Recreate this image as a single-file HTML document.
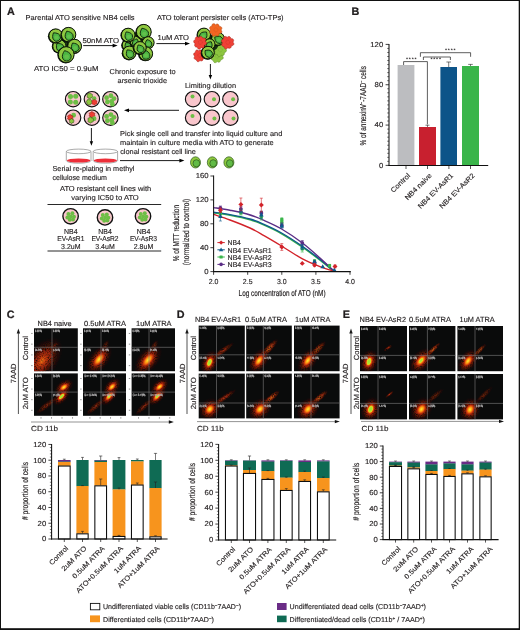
<!DOCTYPE html>
<html lang="en"><head><meta charset="utf-8"><title>Figure</title>
<style>html,body{margin:0;padding:0;background:#fff}body{width:520px;height:630px;overflow:hidden}svg{display:block}text{font-family:'Liberation Sans', sans-serif;fill:#231f20;text-rendering:geometricPrecision}</style>
</head><body>
<svg width="520" height="630" viewBox="0 0 520 630">
<defs>
<filter id="soft" x="-30%" y="-30%" width="160%" height="160%"><feGaussianBlur stdDeviation="0.35"/></filter>
<filter id="spk" x="-5%" y="-5%" width="110%" height="110%"><feTurbulence type="fractalNoise" baseFrequency="0.75" numOctaves="2" seed="5" result="n"/><feColorMatrix in="n" type="matrix" values="0 0 0 0 0  0 0 0 0 0  0 0 0 0 0  2.2 0 0 0 -0.3" result="m"/><feComposite in="SourceGraphic" in2="m" operator="in"/></filter>
<radialGradient id="hotG" cx="0.5" cy="0.5" r="0.5"><stop offset="0" stop-color="#b8ee2a" stop-opacity="1"/><stop offset="0.22" stop-color="#f2e21c" stop-opacity="1"/><stop offset="0.42" stop-color="#ff9a12" stop-opacity="1"/><stop offset="0.62" stop-color="#e2470c" stop-opacity="0.95"/><stop offset="0.82" stop-color="#9c1c08" stop-opacity="0.6"/><stop offset="1" stop-color="#5a0c04" stop-opacity="0"/></radialGradient>
<radialGradient id="hotY" cx="0.5" cy="0.5" r="0.5"><stop offset="0" stop-color="#ffe640" stop-opacity="1"/><stop offset="0.2" stop-color="#ffc21e" stop-opacity="1"/><stop offset="0.42" stop-color="#f98512" stop-opacity="1"/><stop offset="0.64" stop-color="#d43c0c" stop-opacity="0.9"/><stop offset="0.84" stop-color="#8e1a08" stop-opacity="0.55"/><stop offset="1" stop-color="#500a04" stop-opacity="0"/></radialGradient>
<radialGradient id="warm" cx="0.5" cy="0.5" r="0.5"><stop offset="0" stop-color="#f07a14" stop-opacity="1"/><stop offset="0.3" stop-color="#d8480e" stop-opacity="0.95"/><stop offset="0.6" stop-color="#a8240a" stop-opacity="0.75"/><stop offset="0.85" stop-color="#6c1206" stop-opacity="0.4"/><stop offset="1" stop-color="#400804" stop-opacity="0"/></radialGradient>
<radialGradient id="dim" cx="0.5" cy="0.5" r="0.5"><stop offset="0" stop-color="#c83a10" stop-opacity="0.95"/><stop offset="0.4" stop-color="#9a200a" stop-opacity="0.7"/><stop offset="0.8" stop-color="#5c1006" stop-opacity="0.35"/><stop offset="1" stop-color="#300602" stop-opacity="0"/></radialGradient>
<radialGradient id="grn" cx="0.5" cy="0.5" r="0.5"><stop offset="0" stop-color="#8fe03a" stop-opacity="1"/><stop offset="0.5" stop-color="#a8e632" stop-opacity="1"/><stop offset="0.78" stop-color="#dcea22" stop-opacity="0.8"/><stop offset="1" stop-color="#ffd21e" stop-opacity="0"/></radialGradient>
</defs>
<rect x="0.00" y="0.00" width="520.00" height="630.00" fill="#fff"/>
<g id="panelA">
<text font-size="10.8" font-weight="bold" fill="#000" x="6.90" y="15.35" stroke="#000" stroke-width="0.2">A</text>
<text font-size="7.2" textLength="109.00" lengthAdjust="spacingAndGlyphs" x="25.60" y="19.95" stroke="#231f20" stroke-width="0.14">Parental ATO sensitive NB4 cells</text>
<text font-size="7.2" textLength="126.60" lengthAdjust="spacingAndGlyphs" x="157.00" y="19.95" stroke="#231f20" stroke-width="0.14">ATO tolerant persister cells (ATO-TPs)</text>
<text font-size="7.2" textLength="36.60" lengthAdjust="spacingAndGlyphs" x="82.40" y="42.75" stroke="#231f20" stroke-width="0.14">50nM ATO</text>
<text font-size="7.2" textLength="31.40" lengthAdjust="spacingAndGlyphs" x="157.60" y="40.35" stroke="#231f20" stroke-width="0.14">1uM ATO</text>
<text font-size="7.2" textLength="64.40" lengthAdjust="spacingAndGlyphs" x="34.00" y="70.75" stroke="#231f20" stroke-width="0.14">ATO IC50 = 0.9uM</text>
<text font-size="7.2" textLength="66.00" lengthAdjust="spacingAndGlyphs" x="109.60" y="74.35" stroke="#231f20" stroke-width="0.14">Chronic exposure to</text>
<text font-size="7.2" textLength="49.40" lengthAdjust="spacingAndGlyphs" x="117.60" y="83.35" stroke="#231f20" stroke-width="0.14">arsenic trioxide</text>
<text font-size="7.2" textLength="51.00" lengthAdjust="spacingAndGlyphs" x="185.00" y="87.95" stroke="#231f20" stroke-width="0.14">Limiting dilution</text>
<text font-size="7.2" textLength="162.20" lengthAdjust="spacingAndGlyphs" x="120.10" y="135.95" stroke="#231f20" stroke-width="0.14">Pick single cell and transfer into liquid culture and</text>
<text font-size="7.2" textLength="153.60" lengthAdjust="spacingAndGlyphs" x="120.10" y="145.35" stroke="#231f20" stroke-width="0.14">maintain in culture media with ATO to generate</text>
<text font-size="7.2" textLength="75.80" lengthAdjust="spacingAndGlyphs" x="120.20" y="154.25" stroke="#231f20" stroke-width="0.14">clonal resistant cell line</text>
<text font-size="7.2" textLength="82.00" lengthAdjust="spacingAndGlyphs" x="52.50" y="170.95" stroke="#231f20" stroke-width="0.14">Serial re-plating in methyl</text>
<text font-size="7.2" textLength="54.50" lengthAdjust="spacingAndGlyphs" x="52.50" y="179.95" stroke="#231f20" stroke-width="0.14">cellulose medium</text>
<text font-size="7.2" textLength="91.20" lengthAdjust="spacingAndGlyphs" x="60.00" y="190.55" stroke="#231f20" stroke-width="0.14">ATO resistant cell lines with</text>
<text font-size="7.2" textLength="67.60" lengthAdjust="spacingAndGlyphs" x="71.20" y="200.15" stroke="#231f20" stroke-width="0.14">varying IC50 to ATO</text>
<circle cx="64.5" cy="44.5" r="8" fill="#1d3d14"/>
<circle cx="58.95" cy="46.55" r="7.15" fill="#070b06"/>
<circle cx="59.40" cy="46.20" r="6.60" fill="#8fc840" stroke="#0a1408" stroke-width="1.0"/>
<path d="M0,-4.99 C2.03,-3.51 3.70,-1.85 3.70,0.30 A3.70,3.70 0 1 1 -3.70,0.30 C-3.70,-1.85 -2.03,-3.51 0,-4.99Z" transform="translate(60.08,47.40) rotate(-40)" fill="#4bb543" stroke="#0f260c" stroke-width="0.85" stroke-linejoin="round"/>
<ellipse cx="60.08" cy="47.77" rx="2.03" ry="1.85" fill="#62c04b"/>
<circle cx="55.35" cy="36.15" r="7.45" fill="#070b06"/>
<circle cx="55.80" cy="35.80" r="6.90" fill="#8fc840" stroke="#0a1408" stroke-width="1.0"/>
<path d="M0,-5.22 C2.13,-3.67 3.86,-1.93 3.86,0.31 A3.86,3.86 0 1 1 -3.86,0.31 C-3.86,-1.93 -2.13,-3.67 0,-5.22Z" transform="translate(56.43,37.12) rotate(-35)" fill="#4bb543" stroke="#0f260c" stroke-width="0.85" stroke-linejoin="round"/>
<ellipse cx="56.43" cy="37.50" rx="2.13" ry="1.93" fill="#62c04b"/>
<circle cx="68.15" cy="34.95" r="7.75" fill="#070b06"/>
<circle cx="68.60" cy="34.60" r="7.20" fill="#8fc840" stroke="#0a1408" stroke-width="1.0"/>
<path d="M0,-5.44 C2.22,-3.83 4.03,-2.02 4.03,0.32 A4.03,4.03 0 1 1 -4.03,0.32 C-4.03,-2.02 -2.22,-3.83 0,-5.44Z" transform="translate(69.09,36.08) rotate(-25)" fill="#4bb543" stroke="#0f260c" stroke-width="0.85" stroke-linejoin="round"/>
<ellipse cx="69.09" cy="36.48" rx="2.22" ry="2.02" fill="#62c04b"/>
<circle cx="74.15" cy="46.55" r="7.45" fill="#070b06"/>
<circle cx="74.60" cy="46.20" r="6.90" fill="#8fc840" stroke="#0a1408" stroke-width="1.0"/>
<path d="M0,-5.22 C2.13,-3.67 3.86,-1.93 3.86,0.31 A3.86,3.86 0 1 1 -3.86,0.31 C-3.86,-1.93 -2.13,-3.67 0,-5.22Z" transform="translate(75.15,47.57) rotate(-30)" fill="#4bb543" stroke="#0f260c" stroke-width="0.85" stroke-linejoin="round"/>
<ellipse cx="75.15" cy="47.96" rx="2.13" ry="1.93" fill="#62c04b"/>
<circle cx="65.75" cy="54.95" r="8.45" fill="#070b06"/>
<circle cx="66.20" cy="54.60" r="7.90" fill="#8fc840" stroke="#0a1408" stroke-width="1.0"/>
<path d="M0,-5.97 C2.43,-4.20 4.42,-2.21 4.42,0.35 A4.42,4.42 0 1 1 -4.42,0.35 C-4.42,-2.21 -2.43,-4.20 0,-5.97Z" transform="translate(66.63,56.26) rotate(-20)" fill="#4bb543" stroke="#0f260c" stroke-width="0.85" stroke-linejoin="round"/>
<ellipse cx="66.63" cy="56.70" rx="2.43" ry="2.21" fill="#62c04b"/>
<line x1="83.20" y1="45.60" x2="113.10" y2="45.60" stroke="#000" stroke-width="0.9" stroke-linecap="butt"/>
<polygon points="117.60,45.60 112.60,47.50 112.60,43.70" fill="#000"/>
<circle cx="138" cy="43" r="11" fill="#16300f"/>
<circle cx="127.15" cy="45.35" r="5.95" fill="#070b06"/>
<circle cx="127.60" cy="45.00" r="5.40" fill="#8fc840" stroke="#0a1408" stroke-width="1.0"/>
<path d="M0,-4.08 C1.66,-2.87 3.02,-1.51 3.02,0.24 A3.02,3.02 0 1 1 -3.02,0.24 C-3.02,-1.51 -1.66,-2.87 0,-4.08Z" transform="translate(128.03,46.07) rotate(-30)" fill="#4bb543" stroke="#0f260c" stroke-width="0.85" stroke-linejoin="round"/>
<ellipse cx="128.03" cy="46.37" rx="1.66" ry="1.51" fill="#62c04b"/>
<circle cx="135.35" cy="41.95" r="5.95" fill="#070b06"/>
<circle cx="135.80" cy="41.60" r="5.40" fill="#8fc840" stroke="#0a1408" stroke-width="1.0"/>
<path d="M0,-4.08 C1.66,-2.87 3.02,-1.51 3.02,0.24 A3.02,3.02 0 1 1 -3.02,0.24 C-3.02,-1.51 -1.66,-2.87 0,-4.08Z" transform="translate(135.50,42.74) rotate(20)" fill="#4bb543" stroke="#0f260c" stroke-width="0.85" stroke-linejoin="round"/>
<ellipse cx="135.50" cy="43.04" rx="1.66" ry="1.51" fill="#62c04b"/>
<circle cx="127.75" cy="35.35" r="7.35" fill="#070b06"/>
<circle cx="128.20" cy="35.00" r="6.80" fill="#8fc840" stroke="#0a1408" stroke-width="1.0"/>
<path d="M0,-5.14 C2.09,-3.62 3.81,-1.90 3.81,0.30 A3.81,3.81 0 1 1 -3.81,0.30 C-3.81,-1.90 -2.09,-3.62 0,-5.14Z" transform="translate(128.74,36.35) rotate(-30)" fill="#4bb543" stroke="#0f260c" stroke-width="0.85" stroke-linejoin="round"/>
<ellipse cx="128.74" cy="36.73" rx="2.09" ry="1.90" fill="#62c04b"/>
<circle cx="143.35" cy="32.15" r="7.95" fill="#070b06"/>
<circle cx="143.80" cy="31.80" r="7.40" fill="#8fc840" stroke="#0a1408" stroke-width="1.0"/>
<path d="M0,-5.59 C2.28,-3.94 4.14,-2.07 4.14,0.33 A4.14,4.14 0 1 1 -4.14,0.33 C-4.14,-2.07 -2.28,-3.94 0,-5.59Z" transform="translate(144.30,33.32) rotate(-25)" fill="#4bb543" stroke="#0f260c" stroke-width="0.85" stroke-linejoin="round"/>
<ellipse cx="144.30" cy="33.73" rx="2.28" ry="2.07" fill="#62c04b"/>
<circle cx="147.75" cy="42.95" r="6.45" fill="#070b06"/>
<circle cx="148.20" cy="42.60" r="5.90" fill="#8fc840" stroke="#0a1408" stroke-width="1.0"/>
<path d="M0,-4.46 C1.82,-3.14 3.30,-1.65 3.30,0.26 A3.30,3.30 0 1 1 -3.30,0.26 C-3.30,-1.65 -1.82,-3.14 0,-4.46Z" transform="translate(148.52,43.84) rotate(-20)" fill="#4bb543" stroke="#0f260c" stroke-width="0.85" stroke-linejoin="round"/>
<ellipse cx="148.52" cy="44.17" rx="1.82" ry="1.65" fill="#62c04b"/>
<circle cx="128.95" cy="53.15" r="7.25" fill="#070b06"/>
<circle cx="129.40" cy="52.80" r="6.70" fill="#8fc840" stroke="#0a1408" stroke-width="1.0"/>
<path d="M0,-5.07 C2.06,-3.56 3.75,-1.88 3.75,0.30 A3.75,3.75 0 1 1 -3.75,0.30 C-3.75,-1.88 -2.06,-3.56 0,-5.07Z" transform="translate(130.01,54.08) rotate(-35)" fill="#4bb543" stroke="#0f260c" stroke-width="0.85" stroke-linejoin="round"/>
<ellipse cx="130.01" cy="54.46" rx="2.06" ry="1.88" fill="#62c04b"/>
<circle cx="145.35" cy="53.95" r="7.35" fill="#070b06"/>
<circle cx="145.80" cy="53.60" r="6.80" fill="#8fc840" stroke="#0a1408" stroke-width="1.0"/>
<path d="M0,-5.14 C2.09,-3.62 3.81,-1.90 3.81,0.30 A3.81,3.81 0 1 1 -3.81,0.30 C-3.81,-1.90 -2.09,-3.62 0,-5.14Z" transform="translate(145.99,55.08) rotate(-10)" fill="#4bb543" stroke="#0f260c" stroke-width="0.85" stroke-linejoin="round"/>
<ellipse cx="145.99" cy="55.46" rx="2.09" ry="1.90" fill="#62c04b"/>
<circle cx="139.55" cy="48.15" r="6.75" fill="#070b06"/>
<circle cx="140.00" cy="47.80" r="6.20" fill="#8fc840" stroke="#0a1408" stroke-width="1.0"/>
<path d="M0,-4.69 C1.91,-3.30 3.47,-1.74 3.47,0.28 A3.47,3.47 0 1 1 -3.47,0.28 C-3.47,-1.74 -1.91,-3.30 0,-4.69Z" transform="translate(140.50,49.03) rotate(-30)" fill="#4bb543" stroke="#0f260c" stroke-width="0.85" stroke-linejoin="round"/>
<ellipse cx="140.50" cy="49.38" rx="1.91" ry="1.74" fill="#62c04b"/>
<line x1="156.40" y1="43.60" x2="185.50" y2="43.60" stroke="#000" stroke-width="0.9" stroke-linecap="butt"/>
<polygon points="190.00,43.60 185.00,45.50 185.00,41.70" fill="#000"/>
<polygon points="205.04,55.60 205.25,55.98 205.37,56.39 205.38,56.79 205.29,57.18 205.10,57.54 204.83,57.85 204.48,58.11 204.06,58.29 203.59,58.40 203.05,58.40 203.10,58.85 203.10,59.30 203.01,59.71 202.84,60.09 202.61,60.40 202.32,60.66 201.98,60.83 201.60,60.92 201.21,60.93 200.81,60.84 200.41,60.67 200.03,60.35 199.74,60.78 199.40,61.15 199.02,61.42 198.61,61.60 198.19,61.67 197.78,61.64 197.40,61.50 197.06,61.26 196.77,60.93 196.56,60.53 196.42,60.06 196.41,59.50 195.95,59.53 195.51,59.49 195.11,59.37 194.76,59.16 194.47,58.89 194.27,58.56 194.14,58.19 194.11,57.79 194.16,57.38 194.30,56.97 194.53,56.57 194.89,56.19 194.50,55.92 194.15,55.60 193.89,55.24 193.71,54.85 193.63,54.45 193.63,54.05 193.73,53.68 193.93,53.33 194.20,53.04 194.55,52.80 194.97,52.64 195.48,52.59 195.40,52.09 195.40,51.60 195.50,51.15 195.69,50.76 195.95,50.44 196.28,50.20 196.67,50.06 197.09,50.02 197.52,50.08 197.96,50.23 198.38,50.49 198.78,50.89 199.07,50.55 199.40,50.26 199.76,50.06 200.14,49.95 200.53,49.92 200.91,49.98 201.26,50.13 201.57,50.35 201.84,50.65 202.05,51.01 202.19,51.43 202.22,51.93 202.71,51.83 203.20,51.80 203.66,51.86 204.08,52.01 204.44,52.23 204.72,52.53 204.91,52.88 205.01,53.27 205.01,53.69 204.91,54.12 204.71,54.54 204.35,54.95 204.73,55.25" fill="#ef4136" stroke="#a5241c" stroke-width="0.55" stroke-linejoin="round"/>
<circle cx="199.70" cy="55.40" r="1.90" fill="none" stroke="#a5241c" stroke-width="0.4" stroke-dasharray="0.7 0.5" opacity="0.8"/>
<polygon points="222.57,56.30 222.89,56.69 223.11,57.12 223.22,57.56 223.22,57.99 223.11,58.41 222.89,58.78 222.59,59.11 222.20,59.36 221.75,59.54 221.24,59.63 220.68,59.61 220.60,60.00 220.57,60.48 220.45,60.92 220.25,61.32 219.99,61.64 219.66,61.90 219.29,62.07 218.88,62.15 218.46,62.13 218.04,62.02 217.63,61.82 217.24,61.48 216.90,61.78 216.52,62.17 216.09,62.45 215.64,62.62 215.19,62.68 214.75,62.63 214.34,62.47 213.99,62.21 213.70,61.85 213.48,61.41 213.36,60.91 213.36,60.33 212.97,60.23 212.48,60.18 212.05,60.02 211.69,59.78 211.39,59.48 211.19,59.12 211.07,58.71 211.05,58.28 211.13,57.85 211.31,57.41 211.57,57.00 211.96,56.62 211.70,56.30 211.35,55.94 211.08,55.53 210.91,55.11 210.84,54.68 210.87,54.25 210.99,53.85 211.21,53.49 211.51,53.19 211.90,52.96 212.34,52.80 212.87,52.76 212.92,52.32 212.94,51.78 213.06,51.30 213.28,50.89 213.58,50.55 213.94,50.31 214.36,50.16 214.81,50.13 215.27,50.21 215.73,50.40 216.16,50.69 216.56,51.12 216.90,50.92 217.27,50.62 217.67,50.42 218.09,50.32 218.51,50.31 218.91,50.39 219.28,50.57 219.60,50.83 219.87,51.16 220.07,51.56 220.19,52.01 220.21,52.52 220.65,52.55 221.18,52.54 221.67,52.64 222.12,52.82 222.49,53.07 222.78,53.40 222.98,53.78 223.07,54.21 223.05,54.65 222.93,55.10 222.70,55.54 222.32,55.94" fill="#8dc63f" stroke="#5f8f2c" stroke-width="0.55" stroke-linejoin="round"/>
<circle cx="217.20" cy="56.10" r="2.04" fill="none" stroke="#5f8f2c" stroke-width="0.4" stroke-dasharray="0.7 0.5" opacity="0.8"/>
<polygon points="226.41,50.00 226.48,50.43 226.45,50.85 226.31,51.26 226.07,51.63 225.74,51.95 225.33,52.21 224.86,52.40 224.30,52.48 224.35,52.91 224.42,53.39 224.39,53.85 224.28,54.28 224.08,54.65 223.81,54.97 223.48,55.22 223.10,55.38 222.69,55.45 222.25,55.42 221.80,55.30 221.35,55.04 221.08,55.44 220.78,55.89 220.41,56.24 220.00,56.48 219.57,56.62 219.13,56.64 218.70,56.55 218.30,56.35 217.95,56.04 217.66,55.64 217.45,55.16 217.35,54.58 216.92,54.61 216.44,54.64 216.00,54.57 215.59,54.41 215.25,54.16 214.98,53.85 214.79,53.48 214.69,53.07 214.68,52.63 214.76,52.17 214.93,51.72 215.24,51.28 214.87,51.02 214.44,50.73 214.10,50.39 213.85,50.00 213.69,49.59 213.63,49.16 213.68,48.74 213.83,48.35 214.08,47.99 214.41,47.69 214.83,47.45 215.35,47.32 215.28,46.85 215.21,46.32 215.25,45.83 215.39,45.39 215.63,45.01 215.95,44.72 216.33,44.51 216.77,44.40 217.24,44.40 217.72,44.50 218.20,44.71 218.68,45.06 218.95,44.75 219.26,44.38 219.61,44.11 220.00,43.92 220.40,43.83 220.81,43.83 221.21,43.92 221.58,44.11 221.91,44.38 222.19,44.72 222.40,45.14 222.52,45.64 222.98,45.54 223.51,45.43 224.01,45.43 224.48,45.52 224.89,45.71 225.24,45.98 225.50,46.33 225.66,46.73 225.72,47.18 225.68,47.65 225.52,48.13 225.21,48.60 225.56,48.89 225.95,49.22 226.23,49.59" fill="#8dc63f" stroke="#5f8f2c" stroke-width="0.55" stroke-linejoin="round"/>
<circle cx="220.30" cy="49.80" r="2.04" fill="none" stroke="#5f8f2c" stroke-width="0.4" stroke-dasharray="0.7 0.5" opacity="0.8"/>
<circle cx="210.5" cy="43" r="8.5" fill="#16300f"/>
<circle cx="203.55" cy="34.95" r="7.05" fill="#070b06"/>
<circle cx="204.00" cy="34.60" r="6.50" fill="#8fc840" stroke="#0a1408" stroke-width="1.0"/>
<path d="M0,-4.91 C2.00,-3.46 3.64,-1.82 3.64,0.29 A3.64,3.64 0 1 1 -3.64,0.29 C-3.64,-1.82 -2.00,-3.46 0,-4.91Z" transform="translate(203.33,35.79) rotate(40)" fill="#4bb543" stroke="#0f260c" stroke-width="0.85" stroke-linejoin="round"/>
<ellipse cx="203.33" cy="36.15" rx="2.00" ry="1.82" fill="#62c04b"/>
<circle cx="217.55" cy="39.15" r="6.95" fill="#070b06"/>
<circle cx="218.00" cy="38.80" r="6.40" fill="#8fc840" stroke="#0a1408" stroke-width="1.0"/>
<path d="M0,-4.84 C1.97,-3.40 3.58,-1.79 3.58,0.29 A3.58,3.58 0 1 1 -3.58,0.29 C-3.58,-1.79 -1.97,-3.40 0,-4.84Z" transform="translate(218.89,39.70) rotate(-60)" fill="#4bb543" stroke="#0f260c" stroke-width="0.85" stroke-linejoin="round"/>
<ellipse cx="218.89" cy="40.05" rx="1.97" ry="1.79" fill="#62c04b"/>
<circle cx="209.15" cy="44.55" r="5.95" fill="#070b06"/>
<circle cx="209.60" cy="44.20" r="5.40" fill="#8fc840" stroke="#0a1408" stroke-width="1.0"/>
<path d="M0,-4.08 C1.66,-2.87 3.02,-1.51 3.02,0.24 A3.02,3.02 0 1 1 -3.02,0.24 C-3.02,-1.51 -1.66,-2.87 0,-4.08Z" transform="translate(209.17,45.27) rotate(30)" fill="#4bb543" stroke="#0f260c" stroke-width="0.85" stroke-linejoin="round"/>
<ellipse cx="209.17" cy="45.57" rx="1.66" ry="1.51" fill="#62c04b"/>
<circle cx="207.55" cy="52.95" r="6.85" fill="#070b06"/>
<circle cx="208.00" cy="52.60" r="6.30" fill="#8fc840" stroke="#0a1408" stroke-width="1.0"/>
<path d="M0,-4.76 C1.94,-3.35 3.53,-1.76 3.53,0.28 A3.53,3.53 0 1 1 -3.53,0.28 C-3.53,-1.76 -1.94,-3.35 0,-4.76Z" transform="translate(208.77,53.63) rotate(-50)" fill="#4bb543" stroke="#0f260c" stroke-width="0.85" stroke-linejoin="round"/>
<ellipse cx="208.77" cy="53.98" rx="1.94" ry="1.76" fill="#62c04b"/>
<polygon points="220.88,30.00 221.35,30.38 221.63,30.79 221.80,31.23 221.86,31.68 221.81,32.11 221.66,32.51 221.41,32.86 221.06,33.16 220.65,33.37 220.17,33.51 219.65,33.55 219.04,33.44 219.11,34.00 219.03,34.47 218.87,34.89 218.64,35.26 218.34,35.55 217.99,35.77 217.60,35.90 217.19,35.93 216.77,35.87 216.35,35.72 215.96,35.46 215.60,35.04 215.24,35.56 214.82,35.90 214.38,36.13 213.92,36.26 213.47,36.27 213.04,36.18 212.65,35.97 212.32,35.67 212.07,35.28 211.90,34.82 211.83,34.30 211.92,33.68 211.35,33.73 210.88,33.62 210.47,33.43 210.14,33.16 209.88,32.82 209.71,32.44 209.64,32.02 209.67,31.59 209.79,31.16 210.01,30.74 210.32,30.35 210.80,30.00 210.32,29.65 210.01,29.26 209.79,28.84 209.67,28.41 209.64,27.98 209.71,27.56 209.88,27.18 210.14,26.84 210.47,26.57 210.88,26.38 211.35,26.27 211.92,26.32 211.83,25.70 211.90,25.18 212.07,24.72 212.32,24.33 212.65,24.03 213.04,23.82 213.47,23.73 213.92,23.74 214.38,23.87 214.82,24.10 215.24,24.44 215.60,24.96 215.96,24.54 216.35,24.28 216.77,24.13 217.19,24.07 217.60,24.10 217.99,24.23 218.34,24.45 218.64,24.74 218.87,25.11 219.03,25.53 219.11,26.00 219.04,26.56 219.65,26.45 220.17,26.49 220.65,26.63 221.06,26.84 221.41,27.14 221.66,27.49 221.81,27.89 221.86,28.32 221.80,28.77 221.63,29.21 221.35,29.62" fill="#f26522" stroke="#b24a12" stroke-width="0.55" stroke-linejoin="round"/>
<circle cx="215.90" cy="29.80" r="2.04" fill="none" stroke="#b24a12" stroke-width="0.4" stroke-dasharray="0.7 0.5" opacity="0.8"/>
<polygon points="206.36,42.50 206.47,42.92 206.46,43.35 206.35,43.76 206.14,44.15 205.84,44.48 205.45,44.76 204.99,44.96 204.47,45.08 204.22,45.32 204.32,45.82 204.32,46.29 204.22,46.72 204.05,47.12 203.80,47.45 203.49,47.72 203.12,47.90 202.71,47.99 202.28,48.00 201.83,47.90 201.39,47.69 201.05,47.76 200.76,48.25 200.40,48.62 200.00,48.90 199.57,49.07 199.13,49.13 198.69,49.07 198.29,48.90 197.92,48.62 197.62,48.25 197.39,47.80 197.25,47.26 197.00,46.99 196.50,47.06 196.04,47.01 195.63,46.87 195.27,46.65 194.97,46.36 194.76,46.00 194.63,45.60 194.60,45.16 194.66,44.71 194.81,44.26 195.07,43.82 195.03,43.49 194.58,43.21 194.21,42.88 193.94,42.50 193.75,42.09 193.67,41.67 193.69,41.24 193.81,40.84 194.03,40.47 194.34,40.15 194.73,39.90 195.21,39.73 195.42,39.44 195.31,38.90 195.32,38.40 195.44,37.94 195.65,37.54 195.94,37.21 196.31,36.98 196.73,36.84 197.19,36.81 197.67,36.88 198.15,37.06 198.62,37.36 198.98,37.38 199.27,36.98 199.62,36.69 200.00,36.48 200.40,36.36 200.81,36.33 201.21,36.40 201.59,36.56 201.93,36.81 202.22,37.14 202.45,37.53 202.60,38.00 202.88,38.19 203.42,38.05 203.93,38.02 204.41,38.09 204.84,38.25 205.21,38.50 205.50,38.83 205.69,39.21 205.78,39.65 205.77,40.11 205.64,40.58 205.39,41.05 205.41,41.42 205.84,41.73 206.15,42.10" fill="#ef4136" stroke="#a5241c" stroke-width="0.55" stroke-linejoin="round"/>
<circle cx="200.30" cy="42.30" r="2.04" fill="none" stroke="#a5241c" stroke-width="0.4" stroke-dasharray="0.7 0.5" opacity="0.8"/>
<polygon points="233.31,42.50 233.60,42.90 233.78,43.33 233.86,43.76 233.83,44.19 233.69,44.60 233.45,44.96 233.12,45.27 232.71,45.51 232.24,45.67 231.72,45.73 231.23,45.77 231.29,46.29 231.24,46.76 231.10,47.19 230.89,47.57 230.60,47.88 230.27,48.11 229.88,48.25 229.47,48.31 229.05,48.27 228.62,48.14 228.21,47.90 227.84,47.66 227.50,48.15 227.11,48.50 226.68,48.75 226.23,48.89 225.78,48.92 225.35,48.84 224.95,48.65 224.61,48.35 224.34,47.97 224.15,47.51 224.06,46.98 224.01,46.48 223.48,46.52 223.01,46.44 222.60,46.26 222.26,46.00 221.99,45.68 221.80,45.31 221.72,44.90 221.72,44.46 221.83,44.02 222.02,43.59 222.32,43.18 222.60,42.82 222.15,42.50 221.82,42.13 221.58,41.72 221.44,41.29 221.39,40.86 221.44,40.44 221.59,40.05 221.84,39.71 222.17,39.42 222.57,39.21 223.04,39.08 223.49,38.99 223.41,38.41 223.46,37.89 223.61,37.43 223.85,37.04 224.17,36.73 224.55,36.51 224.97,36.40 225.43,36.40 225.90,36.51 226.35,36.73 226.78,37.06 227.17,37.39 227.50,36.99 227.88,36.73 228.28,36.55 228.70,36.47 229.11,36.49 229.50,36.60 229.86,36.80 230.18,37.08 230.43,37.43 230.61,37.84 230.72,38.31 230.79,38.75 231.36,38.64 231.89,38.65 232.36,38.77 232.79,38.97 233.14,39.25 233.40,39.59 233.57,39.99 233.63,40.42 233.58,40.87 233.43,41.32 233.16,41.76 232.87,42.15" fill="#ef4136" stroke="#a5241c" stroke-width="0.55" stroke-linejoin="round"/>
<circle cx="227.80" cy="42.30" r="2.04" fill="none" stroke="#a5241c" stroke-width="0.4" stroke-dasharray="0.7 0.5" opacity="0.8"/>
<line x1="210.40" y1="64.00" x2="210.40" y2="75.40" stroke="#000" stroke-width="0.9" stroke-linecap="butt"/>
<polygon points="210.40,79.40 208.70,74.90 212.10,74.90" fill="#000"/>
<circle cx="193.10" cy="99.20" r="7.70" fill="#f9c6cc" stroke="#111" stroke-width="1.15"/>
<circle cx="211.90" cy="99.20" r="7.70" fill="#f9c6cc" stroke="#111" stroke-width="1.15"/>
<circle cx="230.40" cy="99.20" r="7.70" fill="#f9c6cc" stroke="#111" stroke-width="1.15"/>
<circle cx="193.10" cy="117.70" r="7.70" fill="#f9c6cc" stroke="#111" stroke-width="1.15"/>
<circle cx="211.90" cy="117.70" r="7.70" fill="#f9c6cc" stroke="#111" stroke-width="1.15"/>
<circle cx="230.40" cy="117.70" r="7.70" fill="#f9c6cc" stroke="#111" stroke-width="1.15"/>
<circle cx="192.50" cy="96.60" r="2.00" fill="#6dbe45" filter="url(#soft)"/>
<circle cx="214.00" cy="99.20" r="2.00" fill="#6dbe45" filter="url(#soft)"/>
<circle cx="233.10" cy="99.20" r="2.00" fill="#6dbe45" filter="url(#soft)"/>
<circle cx="192.50" cy="116.00" r="2.00" fill="#6dbe45" filter="url(#soft)"/>
<circle cx="214.40" cy="118.40" r="2.00" fill="#6dbe45" filter="url(#soft)"/>
<circle cx="233.50" cy="118.40" r="2.00" fill="#6dbe45" filter="url(#soft)"/>
<line x1="179.00" y1="110.30" x2="128.50" y2="110.30" stroke="#000" stroke-width="0.9" stroke-linecap="butt"/>
<polygon points="124.00,110.30 129.00,108.40 129.00,112.20" fill="#000"/>
<circle cx="73.10" cy="99.20" r="7.70" fill="#f9c6cc" stroke="#111" stroke-width="1.15"/>
<circle cx="91.90" cy="99.20" r="7.70" fill="#f9c6cc" stroke="#111" stroke-width="1.15"/>
<circle cx="110.40" cy="99.20" r="7.70" fill="#f9c6cc" stroke="#111" stroke-width="1.15"/>
<circle cx="73.10" cy="117.70" r="7.70" fill="#f9c6cc" stroke="#111" stroke-width="1.15"/>
<circle cx="91.90" cy="117.70" r="7.70" fill="#f9c6cc" stroke="#111" stroke-width="1.15"/>
<circle cx="110.40" cy="117.70" r="7.70" fill="#f9c6cc" stroke="#111" stroke-width="1.15"/>
<g transform="translate(0,0.45)">
<circle cx="70.50" cy="96.10" r="2.50" fill="#6dbe45" filter="url(#soft)"/>
<circle cx="75.70" cy="95.70" r="2.50" fill="#6dbe45" filter="url(#soft)"/>
<circle cx="70.30" cy="101.50" r="2.50" fill="#6dbe45" filter="url(#soft)"/>
<circle cx="75.70" cy="101.90" r="2.50" fill="#6dbe45" filter="url(#soft)"/>
<circle cx="106.60" cy="97.20" r="2.40" fill="#6dbe45" filter="url(#soft)"/>
<circle cx="106.60" cy="116.00" r="2.40" fill="#6dbe45" filter="url(#soft)"/>
<circle cx="110.90" cy="95.30" r="2.40" fill="#6dbe45" filter="url(#soft)"/>
<circle cx="110.90" cy="114.10" r="2.40" fill="#6dbe45" filter="url(#soft)"/>
<circle cx="114.00" cy="98.10" r="2.40" fill="#6dbe45" filter="url(#soft)"/>
<circle cx="114.00" cy="116.90" r="2.40" fill="#6dbe45" filter="url(#soft)"/>
<circle cx="107.40" cy="101.50" r="2.40" fill="#6dbe45" filter="url(#soft)"/>
<circle cx="107.40" cy="120.30" r="2.40" fill="#6dbe45" filter="url(#soft)"/>
<circle cx="111.60" cy="100.90" r="2.40" fill="#6dbe45" filter="url(#soft)"/>
<circle cx="111.60" cy="119.70" r="2.40" fill="#6dbe45" filter="url(#soft)"/>
<circle cx="112.40" cy="103.70" r="2.40" fill="#6dbe45" filter="url(#soft)"/>
<circle cx="112.40" cy="122.50" r="2.40" fill="#6dbe45" filter="url(#soft)"/>
<polygon points="92.09,95.40 92.28,95.56 92.40,95.74 92.48,95.93 92.52,96.13 92.53,96.33 92.50,96.52 92.43,96.70 92.33,96.86 92.21,97.01 92.05,97.13 91.88,97.22 91.69,97.29 91.49,97.33 91.28,97.33 91.07,97.30 90.84,97.20 90.81,97.45 90.73,97.65 90.62,97.82 90.49,97.98 90.34,98.11 90.17,98.22 89.99,98.29 89.80,98.33 89.61,98.33 89.42,98.29 89.24,98.23 89.07,98.12 88.92,97.99 88.80,97.82 88.70,97.63 88.66,97.38 88.42,97.47 88.20,97.48 88.00,97.46 87.81,97.39 87.63,97.30 87.48,97.18 87.36,97.03 87.27,96.86 87.21,96.68 87.18,96.49 87.18,96.29 87.22,96.09 87.29,95.90 87.39,95.72 87.52,95.55 87.72,95.40 87.52,95.25 87.39,95.08 87.29,94.90 87.22,94.71 87.18,94.51 87.18,94.31 87.21,94.12 87.27,93.94 87.36,93.77 87.48,93.62 87.63,93.50 87.81,93.41 88.00,93.34 88.20,93.32 88.42,93.33 88.66,93.42 88.70,93.17 88.80,92.98 88.92,92.81 89.07,92.68 89.24,92.57 89.42,92.51 89.61,92.47 89.80,92.48 89.99,92.51 90.17,92.58 90.34,92.69 90.49,92.82 90.62,92.98 90.73,93.15 90.81,93.35 90.84,93.60 91.07,93.50 91.28,93.47 91.49,93.47 91.69,93.51 91.88,93.58 92.05,93.67 92.21,93.79 92.33,93.94 92.43,94.10 92.50,94.28 92.53,94.47 92.52,94.67 92.48,94.87 92.40,95.06 92.28,95.24" fill="#8dc63f" stroke="#1d3a12" stroke-width="0.5" stroke-linejoin="round"/>
<circle cx="94.20" cy="98.00" r="2.20" fill="#6dbe45" filter="url(#soft)"/>
<polygon points="92.20,101.60 92.23,101.80 92.22,102.00 92.18,102.19 92.10,102.38 91.99,102.55 91.85,102.70 91.68,102.82 91.49,102.92 91.29,103.00 91.07,103.03 90.85,103.04 90.89,103.29 90.87,103.51 90.83,103.72 90.75,103.92 90.64,104.09 90.51,104.25 90.35,104.38 90.18,104.48 89.99,104.54 89.79,104.57 89.59,104.56 89.39,104.51 89.20,104.43 89.02,104.31 88.86,104.15 88.73,103.96 88.53,104.11 88.32,104.19 88.11,104.23 87.90,104.23 87.70,104.20 87.51,104.12 87.35,104.02 87.20,103.88 87.08,103.72 86.99,103.54 86.93,103.34 86.90,103.14 86.91,102.92 86.95,102.71 87.02,102.50 87.12,102.30 86.90,102.22 86.71,102.10 86.55,101.95 86.42,101.78 86.32,101.60 86.25,101.41 86.22,101.21 86.22,101.01 86.26,100.81 86.33,100.63 86.44,100.46 86.58,100.31 86.75,100.19 86.94,100.09 87.16,100.04 87.39,100.01 87.36,99.76 87.40,99.54 87.47,99.34 87.57,99.16 87.70,99.00 87.86,98.88 88.03,98.79 88.22,98.73 88.42,98.70 88.63,98.71 88.83,98.76 89.02,98.84 89.20,98.95 89.36,99.09 89.51,99.27 89.63,99.45 89.82,99.30 90.02,99.20 90.22,99.13 90.43,99.10 90.64,99.11 90.84,99.14 91.03,99.21 91.20,99.31 91.35,99.45 91.48,99.60 91.57,99.78 91.63,99.98 91.65,100.19 91.63,100.40 91.57,100.62 91.48,100.83 91.71,100.93 91.88,101.07 92.02,101.23 92.13,101.41" fill="#8dc63f" stroke="#1d3a12" stroke-width="0.5" stroke-linejoin="round"/>
<polygon points="96.60,101.80 96.79,101.96 96.90,102.13 96.98,102.31 97.02,102.50 97.02,102.69 96.99,102.87 96.93,103.05 96.84,103.21 96.71,103.35 96.57,103.46 96.40,103.55 96.22,103.62 96.02,103.65 95.82,103.65 95.62,103.62 95.40,103.53 95.37,103.77 95.29,103.96 95.19,104.13 95.06,104.28 94.92,104.41 94.76,104.51 94.58,104.58 94.40,104.61 94.22,104.61 94.03,104.58 93.86,104.52 93.70,104.42 93.56,104.29 93.43,104.13 93.34,103.94 93.30,103.71 93.07,103.79 92.86,103.80 92.67,103.78 92.48,103.72 92.32,103.63 92.17,103.51 92.05,103.37 91.96,103.21 91.90,103.03 91.88,102.84 91.88,102.65 91.92,102.46 91.99,102.28 92.08,102.11 92.21,101.94 92.40,101.80 92.21,101.66 92.08,101.49 91.99,101.32 91.92,101.14 91.88,100.95 91.88,100.76 91.90,100.57 91.96,100.39 92.05,100.23 92.17,100.09 92.32,99.97 92.48,99.88 92.67,99.82 92.86,99.80 93.07,99.81 93.30,99.89 93.34,99.66 93.43,99.47 93.56,99.31 93.70,99.18 93.86,99.08 94.03,99.02 94.22,98.99 94.40,98.99 94.58,99.02 94.76,99.09 94.92,99.19 95.06,99.32 95.19,99.47 95.29,99.64 95.37,99.83 95.40,100.07 95.62,99.98 95.82,99.95 96.02,99.95 96.22,99.98 96.40,100.05 96.57,100.14 96.71,100.25 96.84,100.39 96.93,100.55 96.99,100.73 97.02,100.91 97.02,101.10 96.98,101.29 96.90,101.47 96.79,101.64" fill="#ee3e33" stroke="#a01a14" stroke-width="0.4" stroke-linejoin="round"/>
<circle cx="73.60" cy="114.80" r="2.40" fill="#6dbe45" filter="url(#soft)"/>
<polygon points="72.49,117.00 72.68,117.16 72.80,117.34 72.88,117.53 72.92,117.73 72.93,117.93 72.90,118.12 72.83,118.30 72.73,118.46 72.61,118.61 72.45,118.73 72.28,118.82 72.09,118.89 71.89,118.93 71.68,118.93 71.47,118.90 71.24,118.80 71.21,119.05 71.13,119.25 71.02,119.42 70.89,119.58 70.74,119.71 70.57,119.82 70.39,119.89 70.20,119.92 70.01,119.93 69.82,119.89 69.64,119.83 69.47,119.72 69.32,119.59 69.20,119.42 69.10,119.23 69.06,118.98 68.82,119.07 68.60,119.08 68.40,119.06 68.21,118.99 68.03,118.90 67.88,118.78 67.76,118.63 67.67,118.46 67.61,118.28 67.58,118.09 67.58,117.89 67.62,117.69 67.69,117.50 67.79,117.32 67.92,117.15 68.12,117.00 67.92,116.85 67.79,116.68 67.69,116.50 67.62,116.31 67.58,116.11 67.58,115.91 67.61,115.72 67.67,115.54 67.76,115.37 67.88,115.22 68.03,115.10 68.21,115.01 68.40,114.94 68.60,114.92 68.82,114.93 69.06,115.02 69.10,114.77 69.20,114.58 69.32,114.41 69.47,114.28 69.64,114.17 69.82,114.11 70.01,114.07 70.20,114.08 70.39,114.11 70.57,114.18 70.74,114.29 70.89,114.42 71.02,114.58 71.13,114.75 71.21,114.95 71.24,115.20 71.47,115.10 71.68,115.07 71.89,115.07 72.09,115.11 72.28,115.18 72.45,115.27 72.61,115.39 72.73,115.54 72.83,115.70 72.90,115.88 72.93,116.07 72.92,116.27 72.88,116.47 72.80,116.66 72.68,116.84" fill="#ee3e33" stroke="#7a1a10" stroke-width="0.5" stroke-linejoin="round"/>
<polygon points="73.54,120.60 73.70,120.74 73.80,120.89 73.87,121.05 73.90,121.22 73.91,121.38 73.88,121.55 73.83,121.70 73.74,121.84 73.64,121.96 73.51,122.06 73.36,122.14 73.20,122.20 73.03,122.23 72.85,122.23 72.67,122.21 72.48,122.12 72.45,122.33 72.39,122.50 72.30,122.65 72.19,122.78 72.06,122.90 71.91,122.98 71.76,123.04 71.60,123.07 71.44,123.08 71.28,123.05 71.12,122.99 70.98,122.90 70.86,122.79 70.75,122.65 70.67,122.49 70.63,122.28 70.43,122.35 70.25,122.36 70.07,122.34 69.91,122.29 69.77,122.21 69.64,122.10 69.54,121.98 69.46,121.84 69.40,121.68 69.38,121.52 69.38,121.35 69.42,121.19 69.48,121.02 69.56,120.87 69.67,120.73 69.84,120.60 69.67,120.47 69.56,120.33 69.48,120.18 69.42,120.01 69.38,119.85 69.38,119.68 69.40,119.52 69.46,119.36 69.54,119.22 69.64,119.10 69.77,118.99 69.91,118.91 70.07,118.86 70.25,118.84 70.43,118.85 70.63,118.92 70.67,118.71 70.75,118.55 70.86,118.41 70.98,118.30 71.12,118.21 71.28,118.15 71.44,118.12 71.60,118.12 71.76,118.16 71.91,118.22 72.06,118.30 72.19,118.42 72.30,118.55 72.39,118.70 72.45,118.87 72.48,119.08 72.67,118.99 72.85,118.97 73.03,118.97 73.20,119.00 73.36,119.06 73.51,119.14 73.64,119.24 73.74,119.36 73.83,119.50 73.88,119.65 73.91,119.82 73.90,119.98 73.87,120.15 73.80,120.31 73.70,120.46" fill="#8dc63f" stroke="#1d3a12" stroke-width="0.5" stroke-linejoin="round"/>
<polygon points="94.38,114.20 94.58,114.37 94.70,114.56 94.78,114.75 94.83,114.96 94.83,115.16 94.80,115.36 94.73,115.55 94.63,115.72 94.50,115.87 94.34,116.00 94.16,116.09 93.96,116.16 93.75,116.20 93.54,116.20 93.32,116.17 93.08,116.07 93.05,116.33 92.97,116.53 92.85,116.72 92.72,116.88 92.56,117.02 92.38,117.12 92.20,117.20 92.00,117.24 91.80,117.24 91.60,117.21 91.42,117.13 91.24,117.03 91.09,116.89 90.96,116.72 90.86,116.52 90.81,116.26 90.57,116.35 90.34,116.36 90.13,116.33 89.93,116.27 89.75,116.17 89.59,116.05 89.47,115.89 89.37,115.72 89.31,115.53 89.28,115.33 89.28,115.12 89.32,114.92 89.39,114.72 89.50,114.53 89.63,114.36 89.84,114.20 89.63,114.04 89.50,113.87 89.39,113.68 89.32,113.48 89.28,113.28 89.28,113.07 89.31,112.87 89.37,112.68 89.47,112.51 89.59,112.35 89.75,112.23 89.93,112.13 90.13,112.07 90.34,112.04 90.57,112.05 90.81,112.14 90.86,111.88 90.96,111.68 91.09,111.51 91.24,111.37 91.42,111.27 91.60,111.19 91.80,111.16 92.00,111.16 92.20,111.20 92.38,111.28 92.56,111.38 92.72,111.52 92.85,111.68 92.97,111.87 93.05,112.07 93.08,112.33 93.32,112.23 93.54,112.20 93.75,112.20 93.96,112.24 94.16,112.31 94.34,112.40 94.50,112.53 94.63,112.68 94.73,112.85 94.80,113.04 94.83,113.24 94.83,113.44 94.78,113.65 94.70,113.84 94.58,114.03" fill="#ee3e33" stroke="#7a1a10" stroke-width="0.5" stroke-linejoin="round"/>
<circle cx="94.20" cy="118.20" r="2.30" fill="#6dbe45" filter="url(#soft)"/>
<polygon points="92.98,119.60 93.18,119.77 93.30,119.96 93.38,120.15 93.43,120.36 93.43,120.56 93.40,120.76 93.33,120.95 93.23,121.12 93.10,121.27 92.94,121.40 92.76,121.49 92.56,121.56 92.35,121.60 92.14,121.60 91.92,121.57 91.68,121.47 91.65,121.73 91.57,121.93 91.45,122.12 91.32,122.28 91.16,122.42 90.98,122.52 90.80,122.60 90.60,122.64 90.40,122.64 90.20,122.61 90.02,122.53 89.84,122.43 89.69,122.29 89.56,122.12 89.46,121.92 89.41,121.66 89.17,121.75 88.94,121.76 88.73,121.73 88.53,121.67 88.35,121.57 88.19,121.45 88.07,121.29 87.97,121.12 87.91,120.93 87.88,120.73 87.88,120.52 87.92,120.32 87.99,120.12 88.10,119.93 88.23,119.76 88.44,119.60 88.23,119.44 88.10,119.27 87.99,119.08 87.92,118.88 87.88,118.68 87.88,118.47 87.91,118.27 87.97,118.08 88.07,117.91 88.19,117.75 88.35,117.63 88.53,117.53 88.73,117.47 88.94,117.44 89.17,117.45 89.41,117.54 89.46,117.28 89.56,117.08 89.69,116.91 89.84,116.77 90.02,116.67 90.20,116.59 90.40,116.56 90.60,116.56 90.80,116.60 90.98,116.68 91.16,116.78 91.32,116.92 91.45,117.08 91.57,117.27 91.65,117.47 91.68,117.73 91.92,117.63 92.14,117.60 92.35,117.60 92.56,117.64 92.76,117.71 92.94,117.80 93.10,117.93 93.23,118.08 93.33,118.25 93.40,118.44 93.43,118.64 93.43,118.84 93.38,119.05 93.30,119.24 93.18,119.43" fill="#8dc63f" stroke="#1d3a12" stroke-width="0.5" stroke-linejoin="round"/>
</g>
<line x1="91.40" y1="128.00" x2="91.40" y2="141.80" stroke="#000" stroke-width="0.9" stroke-linecap="butt"/>
<polygon points="91.40,145.80 89.70,141.30 93.10,141.30" fill="#000"/>
<path d="M66.30,151.4 V160.6 A12.35,2.6 0 0 0 91.00,160.6 V151.4" fill="#fff" stroke="#555" stroke-width="0.5"/>
<ellipse cx="78.65" cy="160.5" rx="11.85" ry="2.1" fill="#ed2e38"/>
<ellipse cx="78.65" cy="151.4" rx="12.35" ry="2.3" fill="#fff" stroke="#555" stroke-width="0.5"/>
<path d="M93.20,151.4 V160.6 A12.20,2.6 0 0 0 117.60,160.6 V151.4" fill="#fff" stroke="#555" stroke-width="0.5"/>
<ellipse cx="105.40" cy="160.5" rx="11.70" ry="2.1" fill="#ed2e38"/>
<ellipse cx="105.40" cy="151.4" rx="12.20" ry="2.3" fill="#fff" stroke="#555" stroke-width="0.5"/>
<line x1="120.00" y1="160.60" x2="179.90" y2="160.60" stroke="#000" stroke-width="0.9" stroke-linecap="butt"/>
<polygon points="184.40,160.60 179.40,162.50 179.40,158.70" fill="#000"/>
<ellipse cx="195.50" cy="162.4" rx="5.0" ry="5.6" fill="#8fc93f" stroke="#2a561c" stroke-width="0.7"/>
<ellipse cx="196.40" cy="163.3" rx="3.4" ry="3.6" fill="#62bb46" stroke="#2a561c" stroke-width="0.7"/>
<ellipse cx="212.30" cy="162.4" rx="5.0" ry="5.6" fill="#8fc93f" stroke="#2a561c" stroke-width="0.7"/>
<ellipse cx="213.20" cy="163.3" rx="3.4" ry="3.6" fill="#62bb46" stroke="#2a561c" stroke-width="0.7"/>
<ellipse cx="228.90" cy="162.4" rx="5.0" ry="5.6" fill="#8fc93f" stroke="#2a561c" stroke-width="0.7"/>
<ellipse cx="229.80" cy="163.3" rx="3.4" ry="3.6" fill="#62bb46" stroke="#2a561c" stroke-width="0.7"/>
<line x1="47.50" y1="204.50" x2="161.20" y2="204.50" stroke="#111" stroke-width="0.9" stroke-linecap="butt"/>
<line x1="47.50" y1="251.00" x2="161.20" y2="251.00" stroke="#111" stroke-width="0.9" stroke-linecap="butt"/>
<circle cx="70.60" cy="216.30" r="7.70" fill="#f9c6cc" stroke="#111" stroke-width="1.4"/>
<circle cx="68.40" cy="213.90" r="2.00" fill="#6dbe45" filter="url(#soft)"/>
<circle cx="72.40" cy="213.30" r="2.00" fill="#6dbe45" filter="url(#soft)"/>
<circle cx="74.00" cy="216.70" r="2.00" fill="#6dbe45" filter="url(#soft)"/>
<circle cx="67.40" cy="217.50" r="2.00" fill="#6dbe45" filter="url(#soft)"/>
<circle cx="70.80" cy="216.50" r="2.00" fill="#6dbe45" filter="url(#soft)"/>
<circle cx="69.80" cy="219.70" r="2.00" fill="#6dbe45" filter="url(#soft)"/>
<circle cx="73.00" cy="219.50" r="2.00" fill="#6dbe45" filter="url(#soft)"/>
<circle cx="105.00" cy="217.40" r="7.70" fill="#f9c6cc" stroke="#111" stroke-width="1.4"/>
<circle cx="102.80" cy="215.00" r="2.00" fill="#6dbe45" filter="url(#soft)"/>
<circle cx="106.80" cy="214.40" r="2.00" fill="#6dbe45" filter="url(#soft)"/>
<circle cx="108.40" cy="217.80" r="2.00" fill="#6dbe45" filter="url(#soft)"/>
<circle cx="101.80" cy="218.60" r="2.00" fill="#6dbe45" filter="url(#soft)"/>
<circle cx="105.20" cy="217.60" r="2.00" fill="#6dbe45" filter="url(#soft)"/>
<circle cx="104.20" cy="220.80" r="2.00" fill="#6dbe45" filter="url(#soft)"/>
<circle cx="107.40" cy="220.60" r="2.00" fill="#6dbe45" filter="url(#soft)"/>
<circle cx="143.00" cy="216.30" r="7.70" fill="#f9c6cc" stroke="#111" stroke-width="1.4"/>
<circle cx="140.80" cy="213.90" r="2.00" fill="#6dbe45" filter="url(#soft)"/>
<circle cx="144.80" cy="213.30" r="2.00" fill="#6dbe45" filter="url(#soft)"/>
<circle cx="146.40" cy="216.70" r="2.00" fill="#6dbe45" filter="url(#soft)"/>
<circle cx="139.80" cy="217.50" r="2.00" fill="#6dbe45" filter="url(#soft)"/>
<circle cx="143.20" cy="216.50" r="2.00" fill="#6dbe45" filter="url(#soft)"/>
<circle cx="142.20" cy="219.70" r="2.00" fill="#6dbe45" filter="url(#soft)"/>
<circle cx="145.40" cy="219.50" r="2.00" fill="#6dbe45" filter="url(#soft)"/>
<text font-size="7.2" textLength="13.60" lengthAdjust="spacingAndGlyphs" x="64.00" y="233.55" stroke="#231f20" stroke-width="0.14">NB4</text>
<text font-size="7.2" textLength="27.20" lengthAdjust="spacingAndGlyphs" x="57.20" y="241.15" stroke="#231f20" stroke-width="0.14">EV-AsR1</text>
<text font-size="7.2" textLength="19.40" lengthAdjust="spacingAndGlyphs" x="61.10" y="248.55" stroke="#231f20" stroke-width="0.14">3.2uM</text>
<text font-size="7.2" textLength="13.60" lengthAdjust="spacingAndGlyphs" x="98.20" y="233.55" stroke="#231f20" stroke-width="0.14">NB4</text>
<text font-size="7.2" textLength="27.20" lengthAdjust="spacingAndGlyphs" x="91.40" y="241.15" stroke="#231f20" stroke-width="0.14">EV-AsR2</text>
<text font-size="7.2" textLength="19.40" lengthAdjust="spacingAndGlyphs" x="95.30" y="248.55" stroke="#231f20" stroke-width="0.14">3.4uM</text>
<text font-size="7.2" textLength="13.60" lengthAdjust="spacingAndGlyphs" x="136.70" y="233.55" stroke="#231f20" stroke-width="0.14">NB4</text>
<text font-size="7.2" textLength="27.20" lengthAdjust="spacingAndGlyphs" x="129.90" y="241.15" stroke="#231f20" stroke-width="0.14">EV-AsR3</text>
<text font-size="7.2" textLength="19.40" lengthAdjust="spacingAndGlyphs" x="133.80" y="248.55" stroke="#231f20" stroke-width="0.14">2.8uM</text>
</g>
<g id="lineChart">
<path d="M213.60,212.90 C216.33,213.30 223.93,214.15 230.00,215.30 C236.07,216.45 244.33,218.15 250.00,219.80 C255.67,221.45 258.73,222.87 264.00,225.20 C269.27,227.53 275.27,230.18 281.60,233.80 C287.93,237.42 295.60,242.50 302.00,246.90 C308.40,251.30 314.77,256.15 320.00,260.20 C325.23,264.25 331.17,269.37 333.40,271.20" fill="none" stroke="#39b54a" stroke-width="1.4"/>
<path d="M213.60,212.20 C216.33,212.60 223.93,213.47 230.00,214.60 C236.07,215.73 244.33,217.37 250.00,219.00 C255.67,220.63 258.73,222.07 264.00,224.40 C269.27,226.73 275.27,229.40 281.60,233.00 C287.93,236.60 295.60,241.60 302.00,246.00 C308.40,250.40 314.67,255.20 320.00,259.40 C325.33,263.60 331.67,269.23 334.00,271.20" fill="none" stroke="#0e5a8c" stroke-width="1.4"/>
<path d="M213.60,207.60 C216.33,208.03 224.43,209.13 230.00,210.20 C235.57,211.27 241.33,212.30 247.00,214.00 C252.67,215.70 258.23,217.90 264.00,220.40 C269.77,222.90 275.20,225.23 281.60,229.00 C288.00,232.77 296.00,238.17 302.40,243.00 C308.80,247.83 314.73,253.30 320.00,258.00 C325.27,262.70 331.67,269.00 334.00,271.20" fill="none" stroke="#5b2d86" stroke-width="1.4"/>
<path d="M213.60,214.40 C216.33,215.33 223.93,217.73 230.00,220.00 C236.07,222.27 244.33,225.40 250.00,228.00 C255.67,230.60 258.73,232.60 264.00,235.60 C269.27,238.60 275.27,242.17 281.60,246.00 C287.93,249.83 295.60,255.17 302.00,258.60 C308.40,262.03 314.67,264.50 320.00,266.60 C325.33,268.70 331.67,270.43 334.00,271.20" fill="none" stroke="#d2232a" stroke-width="1.4"/>
<line x1="220.42" y1="211.40" x2="220.42" y2="215.40" stroke="#39b54a" stroke-width="0.6" stroke-linecap="butt"/>
<line x1="218.92" y1="211.40" x2="221.92" y2="211.40" stroke="#39b54a" stroke-width="0.6" stroke-linecap="butt"/>
<line x1="218.92" y1="215.40" x2="221.92" y2="215.40" stroke="#39b54a" stroke-width="0.6" stroke-linecap="butt"/>
<rect x="218.85" y="211.83" width="3.15" height="3.15" rx="0.6" fill="#39b54a"/>
<line x1="240.88" y1="211.00" x2="240.88" y2="215.00" stroke="#39b54a" stroke-width="0.6" stroke-linecap="butt"/>
<line x1="239.38" y1="211.00" x2="242.38" y2="211.00" stroke="#39b54a" stroke-width="0.6" stroke-linecap="butt"/>
<line x1="239.38" y1="215.00" x2="242.38" y2="215.00" stroke="#39b54a" stroke-width="0.6" stroke-linecap="butt"/>
<rect x="239.31" y="211.43" width="3.15" height="3.15" rx="0.6" fill="#39b54a"/>
<line x1="261.34" y1="214.00" x2="261.34" y2="220.00" stroke="#39b54a" stroke-width="0.6" stroke-linecap="butt"/>
<line x1="259.84" y1="214.00" x2="262.84" y2="214.00" stroke="#39b54a" stroke-width="0.6" stroke-linecap="butt"/>
<line x1="259.84" y1="220.00" x2="262.84" y2="220.00" stroke="#39b54a" stroke-width="0.6" stroke-linecap="butt"/>
<rect x="259.77" y="215.43" width="3.15" height="3.15" rx="0.6" fill="#39b54a"/>
<rect x="280.23" y="219.43" width="3.15" height="3.15" rx="0.6" fill="#39b54a"/>
<line x1="302.26" y1="246.00" x2="302.26" y2="252.00" stroke="#39b54a" stroke-width="0.6" stroke-linecap="butt"/>
<line x1="300.76" y1="246.00" x2="303.76" y2="246.00" stroke="#39b54a" stroke-width="0.6" stroke-linecap="butt"/>
<line x1="300.76" y1="252.00" x2="303.76" y2="252.00" stroke="#39b54a" stroke-width="0.6" stroke-linecap="butt"/>
<rect x="300.69" y="247.43" width="3.15" height="3.15" rx="0.6" fill="#39b54a"/>
<line x1="314.54" y1="259.50" x2="314.54" y2="262.50" stroke="#39b54a" stroke-width="0.6" stroke-linecap="butt"/>
<line x1="313.04" y1="259.50" x2="316.04" y2="259.50" stroke="#39b54a" stroke-width="0.6" stroke-linecap="butt"/>
<line x1="313.04" y1="262.50" x2="316.04" y2="262.50" stroke="#39b54a" stroke-width="0.6" stroke-linecap="butt"/>
<rect x="312.96" y="259.43" width="3.15" height="3.15" rx="0.6" fill="#39b54a"/>
<line x1="329.54" y1="264.40" x2="329.54" y2="266.80" stroke="#39b54a" stroke-width="0.6" stroke-linecap="butt"/>
<line x1="328.04" y1="264.40" x2="331.04" y2="264.40" stroke="#39b54a" stroke-width="0.6" stroke-linecap="butt"/>
<line x1="328.04" y1="266.80" x2="331.04" y2="266.80" stroke="#39b54a" stroke-width="0.6" stroke-linecap="butt"/>
<rect x="327.97" y="264.03" width="3.15" height="3.15" rx="0.6" fill="#39b54a"/>
<rect x="280.23" y="217.43" width="3.15" height="3.15" rx="0.6" fill="#39b54a"/>
<rect x="280.23" y="221.43" width="3.15" height="3.15" rx="0.6" fill="#39b54a"/>
<line x1="220.42" y1="206.00" x2="220.42" y2="210.00" stroke="#5b2d86" stroke-width="0.6" stroke-linecap="butt"/>
<line x1="218.92" y1="206.00" x2="221.92" y2="206.00" stroke="#5b2d86" stroke-width="0.6" stroke-linecap="butt"/>
<line x1="218.92" y1="210.00" x2="221.92" y2="210.00" stroke="#5b2d86" stroke-width="0.6" stroke-linecap="butt"/>
<circle cx="220.42" cy="208.00" r="1.90" fill="#5b2d86"/>
<line x1="240.88" y1="206.50" x2="240.88" y2="211.50" stroke="#5b2d86" stroke-width="0.6" stroke-linecap="butt"/>
<line x1="239.38" y1="206.50" x2="242.38" y2="206.50" stroke="#5b2d86" stroke-width="0.6" stroke-linecap="butt"/>
<line x1="239.38" y1="211.50" x2="242.38" y2="211.50" stroke="#5b2d86" stroke-width="0.6" stroke-linecap="butt"/>
<circle cx="240.88" cy="209.00" r="1.90" fill="#5b2d86"/>
<line x1="261.34" y1="211.00" x2="261.34" y2="215.00" stroke="#5b2d86" stroke-width="0.6" stroke-linecap="butt"/>
<line x1="259.84" y1="211.00" x2="262.84" y2="211.00" stroke="#5b2d86" stroke-width="0.6" stroke-linecap="butt"/>
<line x1="259.84" y1="215.00" x2="262.84" y2="215.00" stroke="#5b2d86" stroke-width="0.6" stroke-linecap="butt"/>
<circle cx="261.34" cy="213.00" r="1.90" fill="#5b2d86"/>
<line x1="281.80" y1="222.90" x2="281.80" y2="227.90" stroke="#5b2d86" stroke-width="0.6" stroke-linecap="butt"/>
<line x1="280.30" y1="222.90" x2="283.30" y2="222.90" stroke="#5b2d86" stroke-width="0.6" stroke-linecap="butt"/>
<line x1="280.30" y1="227.90" x2="283.30" y2="227.90" stroke="#5b2d86" stroke-width="0.6" stroke-linecap="butt"/>
<circle cx="281.80" cy="225.40" r="1.90" fill="#5b2d86"/>
<line x1="302.26" y1="240.50" x2="302.26" y2="245.50" stroke="#5b2d86" stroke-width="0.6" stroke-linecap="butt"/>
<line x1="300.76" y1="240.50" x2="303.76" y2="240.50" stroke="#5b2d86" stroke-width="0.6" stroke-linecap="butt"/>
<line x1="300.76" y1="245.50" x2="303.76" y2="245.50" stroke="#5b2d86" stroke-width="0.6" stroke-linecap="butt"/>
<circle cx="302.26" cy="243.00" r="1.90" fill="#5b2d86"/>
<line x1="314.54" y1="261.60" x2="314.54" y2="263.60" stroke="#5b2d86" stroke-width="0.6" stroke-linecap="butt"/>
<line x1="313.04" y1="261.60" x2="316.04" y2="261.60" stroke="#5b2d86" stroke-width="0.6" stroke-linecap="butt"/>
<line x1="313.04" y1="263.60" x2="316.04" y2="263.60" stroke="#5b2d86" stroke-width="0.6" stroke-linecap="butt"/>
<circle cx="314.54" cy="262.60" r="1.90" fill="#5b2d86"/>
<line x1="220.42" y1="212.00" x2="220.42" y2="221.00" stroke="#0e5a8c" stroke-width="0.6" stroke-linecap="butt"/>
<line x1="218.92" y1="212.00" x2="221.92" y2="212.00" stroke="#0e5a8c" stroke-width="0.6" stroke-linecap="butt"/>
<line x1="218.92" y1="221.00" x2="221.92" y2="221.00" stroke="#0e5a8c" stroke-width="0.6" stroke-linecap="butt"/>
<polygon points="220.42,214.10 222.72,218.10 218.12,218.10" fill="#0e5a8c"/>
<line x1="240.88" y1="209.00" x2="240.88" y2="213.00" stroke="#0e5a8c" stroke-width="0.6" stroke-linecap="butt"/>
<line x1="239.38" y1="209.00" x2="242.38" y2="209.00" stroke="#0e5a8c" stroke-width="0.6" stroke-linecap="butt"/>
<line x1="239.38" y1="213.00" x2="242.38" y2="213.00" stroke="#0e5a8c" stroke-width="0.6" stroke-linecap="butt"/>
<polygon points="240.88,208.60 243.18,212.60 238.58,212.60" fill="#0e5a8c"/>
<line x1="261.34" y1="211.50" x2="261.34" y2="218.50" stroke="#0e5a8c" stroke-width="0.6" stroke-linecap="butt"/>
<line x1="259.84" y1="211.50" x2="262.84" y2="211.50" stroke="#0e5a8c" stroke-width="0.6" stroke-linecap="butt"/>
<line x1="259.84" y1="218.50" x2="262.84" y2="218.50" stroke="#0e5a8c" stroke-width="0.6" stroke-linecap="butt"/>
<polygon points="261.34,212.60 263.64,216.60 259.04,216.60" fill="#0e5a8c"/>
<line x1="281.80" y1="224.00" x2="281.80" y2="228.00" stroke="#0e5a8c" stroke-width="0.6" stroke-linecap="butt"/>
<line x1="280.30" y1="224.00" x2="283.30" y2="224.00" stroke="#0e5a8c" stroke-width="0.6" stroke-linecap="butt"/>
<line x1="280.30" y1="228.00" x2="283.30" y2="228.00" stroke="#0e5a8c" stroke-width="0.6" stroke-linecap="butt"/>
<polygon points="281.80,223.60 284.10,227.60 279.50,227.60" fill="#0e5a8c"/>
<line x1="302.26" y1="244.50" x2="302.26" y2="249.50" stroke="#0e5a8c" stroke-width="0.6" stroke-linecap="butt"/>
<line x1="300.76" y1="244.50" x2="303.76" y2="244.50" stroke="#0e5a8c" stroke-width="0.6" stroke-linecap="butt"/>
<line x1="300.76" y1="249.50" x2="303.76" y2="249.50" stroke="#0e5a8c" stroke-width="0.6" stroke-linecap="butt"/>
<polygon points="302.26,244.60 304.56,248.60 299.96,248.60" fill="#0e5a8c"/>
<line x1="314.54" y1="260.80" x2="314.54" y2="263.20" stroke="#0e5a8c" stroke-width="0.6" stroke-linecap="butt"/>
<line x1="313.04" y1="260.80" x2="316.04" y2="260.80" stroke="#0e5a8c" stroke-width="0.6" stroke-linecap="butt"/>
<line x1="313.04" y1="263.20" x2="316.04" y2="263.20" stroke="#0e5a8c" stroke-width="0.6" stroke-linecap="butt"/>
<polygon points="314.54,259.60 316.84,263.60 312.24,263.60" fill="#0e5a8c"/>
<polygon points="322.72,264.20 325.02,268.20 320.42,268.20" fill="#0e5a8c"/>
<polygon points="334.31,267.60 336.61,271.60 332.01,271.60" fill="#0e5a8c"/>
<line x1="220.42" y1="208.00" x2="220.42" y2="212.40" stroke="#d2232a" stroke-width="0.6" stroke-linecap="butt"/>
<line x1="218.92" y1="208.00" x2="221.92" y2="208.00" stroke="#d2232a" stroke-width="0.6" stroke-linecap="butt"/>
<line x1="218.92" y1="212.40" x2="221.92" y2="212.40" stroke="#d2232a" stroke-width="0.6" stroke-linecap="butt"/>
<polygon points="220.42,207.73 222.89,210.20 220.42,212.67 217.95,210.20" fill="#d2232a"/>
<line x1="240.88" y1="198.00" x2="240.88" y2="210.80" stroke="#d2232a" stroke-width="0.6" stroke-linecap="butt"/>
<line x1="239.38" y1="198.00" x2="242.38" y2="198.00" stroke="#d2232a" stroke-width="0.6" stroke-linecap="butt"/>
<line x1="239.38" y1="210.80" x2="242.38" y2="210.80" stroke="#d2232a" stroke-width="0.6" stroke-linecap="butt"/>
<polygon points="240.88,201.93 243.35,204.40 240.88,206.87 238.41,204.40" fill="#d2232a"/>
<line x1="261.34" y1="198.20" x2="261.34" y2="211.80" stroke="#d2232a" stroke-width="0.6" stroke-linecap="butt"/>
<line x1="259.84" y1="198.20" x2="262.84" y2="198.20" stroke="#d2232a" stroke-width="0.6" stroke-linecap="butt"/>
<line x1="259.84" y1="211.80" x2="262.84" y2="211.80" stroke="#d2232a" stroke-width="0.6" stroke-linecap="butt"/>
<polygon points="261.34,202.53 263.81,205.00 261.34,207.47 258.87,205.00" fill="#d2232a"/>
<line x1="281.80" y1="243.60" x2="281.80" y2="250.40" stroke="#d2232a" stroke-width="0.6" stroke-linecap="butt"/>
<line x1="280.30" y1="243.60" x2="283.30" y2="243.60" stroke="#d2232a" stroke-width="0.6" stroke-linecap="butt"/>
<line x1="280.30" y1="250.40" x2="283.30" y2="250.40" stroke="#d2232a" stroke-width="0.6" stroke-linecap="butt"/>
<polygon points="281.80,244.53 284.27,247.00 281.80,249.47 279.33,247.00" fill="#d2232a"/>
<polygon points="302.26,260.93 304.73,263.40 302.26,265.87 299.79,263.40" fill="#d2232a"/>
<line x1="314.54" y1="263.40" x2="314.54" y2="266.60" stroke="#d2232a" stroke-width="0.6" stroke-linecap="butt"/>
<line x1="313.04" y1="263.40" x2="316.04" y2="263.40" stroke="#d2232a" stroke-width="0.6" stroke-linecap="butt"/>
<line x1="313.04" y1="266.60" x2="316.04" y2="266.60" stroke="#d2232a" stroke-width="0.6" stroke-linecap="butt"/>
<polygon points="314.54,262.53 317.01,265.00 314.54,267.47 312.06,265.00" fill="#d2232a"/>
<line x1="335.00" y1="265.00" x2="335.00" y2="267.80" stroke="#d2232a" stroke-width="0.6" stroke-linecap="butt"/>
<line x1="333.50" y1="265.00" x2="336.50" y2="265.00" stroke="#d2232a" stroke-width="0.6" stroke-linecap="butt"/>
<line x1="333.50" y1="267.80" x2="336.50" y2="267.80" stroke="#d2232a" stroke-width="0.6" stroke-linecap="butt"/>
<polygon points="335.00,263.93 337.47,266.40 335.00,268.87 332.52,266.40" fill="#d2232a"/>
<line x1="213.60" y1="175.60" x2="213.60" y2="272.10" stroke="#111" stroke-width="1.05" stroke-linecap="butt"/>
<line x1="213.10" y1="271.60" x2="350.80" y2="271.60" stroke="#111" stroke-width="1.05" stroke-linecap="butt"/>
<line x1="210.40" y1="271.60" x2="213.60" y2="271.60" stroke="#111" stroke-width="0.8" stroke-linecap="butt"/>
<text font-size="7.3" text-anchor="end" textLength="4.30" lengthAdjust="spacingAndGlyphs" x="208.60" y="273.95" stroke="#231f20" stroke-width="0.14">0</text>
<line x1="210.40" y1="247.70" x2="213.60" y2="247.70" stroke="#111" stroke-width="0.8" stroke-linecap="butt"/>
<text font-size="7.3" text-anchor="end" textLength="8.60" lengthAdjust="spacingAndGlyphs" x="208.60" y="250.05" stroke="#231f20" stroke-width="0.14">40</text>
<line x1="210.40" y1="223.80" x2="213.60" y2="223.80" stroke="#111" stroke-width="0.8" stroke-linecap="butt"/>
<text font-size="7.3" text-anchor="end" textLength="8.60" lengthAdjust="spacingAndGlyphs" x="208.60" y="226.15" stroke="#231f20" stroke-width="0.14">80</text>
<line x1="210.40" y1="199.90" x2="213.60" y2="199.90" stroke="#111" stroke-width="0.8" stroke-linecap="butt"/>
<text font-size="7.3" text-anchor="end" textLength="12.90" lengthAdjust="spacingAndGlyphs" x="208.60" y="202.25" stroke="#231f20" stroke-width="0.14">120</text>
<line x1="210.40" y1="176.00" x2="213.60" y2="176.00" stroke="#111" stroke-width="0.8" stroke-linecap="butt"/>
<text font-size="7.3" text-anchor="end" textLength="12.90" lengthAdjust="spacingAndGlyphs" x="208.60" y="178.35" stroke="#231f20" stroke-width="0.14">160</text>
<line x1="213.60" y1="271.60" x2="213.60" y2="274.80" stroke="#111" stroke-width="0.8" stroke-linecap="butt"/>
<text font-size="7.3" text-anchor="middle" textLength="9.70" lengthAdjust="spacingAndGlyphs" x="213.60" y="284.15" stroke="#231f20" stroke-width="0.14">2.0</text>
<line x1="247.70" y1="271.60" x2="247.70" y2="274.80" stroke="#111" stroke-width="0.8" stroke-linecap="butt"/>
<text font-size="7.3" text-anchor="middle" textLength="9.70" lengthAdjust="spacingAndGlyphs" x="247.70" y="284.15" stroke="#231f20" stroke-width="0.14">2.5</text>
<line x1="281.80" y1="271.60" x2="281.80" y2="274.80" stroke="#111" stroke-width="0.8" stroke-linecap="butt"/>
<text font-size="7.3" text-anchor="middle" textLength="9.70" lengthAdjust="spacingAndGlyphs" x="281.80" y="284.15" stroke="#231f20" stroke-width="0.14">3.0</text>
<line x1="315.90" y1="271.60" x2="315.90" y2="274.80" stroke="#111" stroke-width="0.8" stroke-linecap="butt"/>
<text font-size="7.3" text-anchor="middle" textLength="9.70" lengthAdjust="spacingAndGlyphs" x="315.90" y="284.15" stroke="#231f20" stroke-width="0.14">3.5</text>
<line x1="350.00" y1="271.60" x2="350.00" y2="274.80" stroke="#111" stroke-width="0.8" stroke-linecap="butt"/>
<text font-size="7.3" text-anchor="middle" textLength="9.70" lengthAdjust="spacingAndGlyphs" x="350.00" y="284.15" stroke="#231f20" stroke-width="0.14">4.0</text>
<line x1="217.40" y1="242.60" x2="224.80" y2="242.60" stroke="#d2232a" stroke-width="1.0" stroke-linecap="butt"/>
<polygon points="221.10,240.41 223.28,242.60 221.10,244.78 218.91,242.60" fill="#d2232a"/>
<text font-size="7.0" textLength="13.20" lengthAdjust="spacingAndGlyphs" x="227.60" y="245.35" stroke="#231f20" stroke-width="0.14">NB4</text>
<line x1="217.40" y1="249.80" x2="224.80" y2="249.80" stroke="#0e5a8c" stroke-width="1.0" stroke-linecap="butt"/>
<polygon points="221.10,247.52 223.28,251.32 218.91,251.32" fill="#0e5a8c"/>
<text font-size="7.0" textLength="44.00" lengthAdjust="spacingAndGlyphs" x="227.60" y="252.55" stroke="#231f20" stroke-width="0.14">NB4 EV-AsR1</text>
<line x1="217.40" y1="257.00" x2="224.80" y2="257.00" stroke="#39b54a" stroke-width="1.0" stroke-linecap="butt"/>
<rect x="219.48" y="255.38" width="3.23" height="3.23" rx="0.6" fill="#39b54a"/>
<text font-size="7.0" textLength="44.00" lengthAdjust="spacingAndGlyphs" x="227.60" y="259.75" stroke="#231f20" stroke-width="0.14">NB4 EV-AsR2</text>
<line x1="217.40" y1="264.40" x2="224.80" y2="264.40" stroke="#5b2d86" stroke-width="1.0" stroke-linecap="butt"/>
<circle cx="221.10" cy="264.40" r="1.80" fill="#5b2d86"/>
<text font-size="7.0" textLength="44.00" lengthAdjust="spacingAndGlyphs" x="227.60" y="267.15" stroke="#231f20" stroke-width="0.14">NB4 EV-AsR3</text>
<text font-size="8.6" textLength="56.20" lengthAdjust="spacingAndGlyphs" transform="translate(178.60,261.20) rotate(-90)" stroke="#231f20" stroke-width="0.18">% of MTT reduction</text>
<text font-size="8.6" textLength="66.40" lengthAdjust="spacingAndGlyphs" transform="translate(188.90,265.20) rotate(-90)" stroke="#231f20" stroke-width="0.18">(normalized to control)</text>
<text font-size="8.6" textLength="87.00" lengthAdjust="spacingAndGlyphs" x="238.60" y="295.55" stroke="#231f20" stroke-width="0.18">Log concentration of ATO (nM)</text>
</g>
<g id="panelB">
<text font-size="10.8" font-weight="bold" fill="#000" x="351.60" y="15.35" stroke="#000" stroke-width="0.2">B</text>
<rect x="397.60" y="65.00" width="16.80" height="100.40" fill="#bcbdc0"/>
<rect x="419.00" y="127.00" width="17.00" height="38.40" fill="#c8202f"/>
<rect x="440.40" y="67.00" width="16.60" height="98.40" fill="#0d5489"/>
<rect x="462.00" y="66.00" width="17.00" height="99.40" fill="#3ab54a"/>
<line x1="427.50" y1="127.00" x2="427.50" y2="125.20" stroke="#222" stroke-width="0.6" stroke-linecap="butt"/>
<line x1="425.50" y1="125.20" x2="429.50" y2="125.20" stroke="#222" stroke-width="0.6" stroke-linecap="butt"/>
<line x1="448.70" y1="67.00" x2="448.70" y2="62.00" stroke="#222" stroke-width="0.6" stroke-linecap="butt"/>
<line x1="446.40" y1="62.00" x2="451.00" y2="62.00" stroke="#222" stroke-width="0.6" stroke-linecap="butt"/>
<line x1="470.50" y1="66.00" x2="470.50" y2="64.40" stroke="#222" stroke-width="0.6" stroke-linecap="butt"/>
<line x1="468.20" y1="64.40" x2="472.80" y2="64.40" stroke="#222" stroke-width="0.6" stroke-linecap="butt"/>
<path d="M403.6,65 V61.6 H427.4 V124.4" fill="none" stroke="#1a1a1a" stroke-width="0.7"/>
<path d="M420.4,56.8 V52.7 H470.6 V56.8" fill="none" stroke="#1a1a1a" stroke-width="0.7"/>
<path d="M423.4,60 V57 H450.4 V60" fill="none" stroke="#1a1a1a" stroke-width="0.7"/>
<text x="406.0" y="60.9" font-size="5.2" font-weight="bold" fill="#111" textLength="10.6" lengthAdjust="spacing">****</text>
<text x="445.0" y="52.1" font-size="5.2" font-weight="bold" fill="#111" textLength="10.6" lengthAdjust="spacing">****</text>
<text x="430.4" y="60.9" font-size="5.2" font-weight="bold" fill="#111" textLength="10.6" lengthAdjust="spacing">****</text>
<line x1="389.00" y1="44.00" x2="389.00" y2="165.90" stroke="#111" stroke-width="1.05" stroke-linecap="butt"/>
<line x1="388.50" y1="165.40" x2="488.20" y2="165.40" stroke="#111" stroke-width="1.05" stroke-linecap="butt"/>
<line x1="385.60" y1="165.40" x2="389.00" y2="165.40" stroke="#111" stroke-width="0.8" stroke-linecap="butt"/>
<text font-size="7.3" text-anchor="end" textLength="4.30" lengthAdjust="spacingAndGlyphs" x="383.20" y="167.75" stroke="#231f20" stroke-width="0.14">0</text>
<line x1="387.20" y1="161.37" x2="389.00" y2="161.37" stroke="#111" stroke-width="0.6" stroke-linecap="butt"/>
<line x1="387.20" y1="157.33" x2="389.00" y2="157.33" stroke="#111" stroke-width="0.6" stroke-linecap="butt"/>
<line x1="387.20" y1="153.30" x2="389.00" y2="153.30" stroke="#111" stroke-width="0.6" stroke-linecap="butt"/>
<line x1="387.20" y1="149.27" x2="389.00" y2="149.27" stroke="#111" stroke-width="0.6" stroke-linecap="butt"/>
<line x1="387.20" y1="145.23" x2="389.00" y2="145.23" stroke="#111" stroke-width="0.6" stroke-linecap="butt"/>
<line x1="387.20" y1="141.20" x2="389.00" y2="141.20" stroke="#111" stroke-width="0.6" stroke-linecap="butt"/>
<line x1="387.20" y1="137.17" x2="389.00" y2="137.17" stroke="#111" stroke-width="0.6" stroke-linecap="butt"/>
<line x1="387.20" y1="133.13" x2="389.00" y2="133.13" stroke="#111" stroke-width="0.6" stroke-linecap="butt"/>
<line x1="387.20" y1="129.10" x2="389.00" y2="129.10" stroke="#111" stroke-width="0.6" stroke-linecap="butt"/>
<line x1="385.60" y1="125.07" x2="389.00" y2="125.07" stroke="#111" stroke-width="0.8" stroke-linecap="butt"/>
<text font-size="7.3" text-anchor="end" textLength="8.60" lengthAdjust="spacingAndGlyphs" x="383.20" y="127.42" stroke="#231f20" stroke-width="0.14">40</text>
<line x1="387.20" y1="121.03" x2="389.00" y2="121.03" stroke="#111" stroke-width="0.6" stroke-linecap="butt"/>
<line x1="387.20" y1="117.00" x2="389.00" y2="117.00" stroke="#111" stroke-width="0.6" stroke-linecap="butt"/>
<line x1="387.20" y1="112.97" x2="389.00" y2="112.97" stroke="#111" stroke-width="0.6" stroke-linecap="butt"/>
<line x1="387.20" y1="108.94" x2="389.00" y2="108.94" stroke="#111" stroke-width="0.6" stroke-linecap="butt"/>
<line x1="387.20" y1="104.90" x2="389.00" y2="104.90" stroke="#111" stroke-width="0.6" stroke-linecap="butt"/>
<line x1="387.20" y1="100.87" x2="389.00" y2="100.87" stroke="#111" stroke-width="0.6" stroke-linecap="butt"/>
<line x1="387.20" y1="96.84" x2="389.00" y2="96.84" stroke="#111" stroke-width="0.6" stroke-linecap="butt"/>
<line x1="387.20" y1="92.80" x2="389.00" y2="92.80" stroke="#111" stroke-width="0.6" stroke-linecap="butt"/>
<line x1="387.20" y1="88.77" x2="389.00" y2="88.77" stroke="#111" stroke-width="0.6" stroke-linecap="butt"/>
<line x1="385.60" y1="84.74" x2="389.00" y2="84.74" stroke="#111" stroke-width="0.8" stroke-linecap="butt"/>
<text font-size="7.3" text-anchor="end" textLength="8.60" lengthAdjust="spacingAndGlyphs" x="383.20" y="87.09" stroke="#231f20" stroke-width="0.14">80</text>
<line x1="387.20" y1="80.70" x2="389.00" y2="80.70" stroke="#111" stroke-width="0.6" stroke-linecap="butt"/>
<line x1="387.20" y1="76.67" x2="389.00" y2="76.67" stroke="#111" stroke-width="0.6" stroke-linecap="butt"/>
<line x1="387.20" y1="72.64" x2="389.00" y2="72.64" stroke="#111" stroke-width="0.6" stroke-linecap="butt"/>
<line x1="387.20" y1="68.60" x2="389.00" y2="68.60" stroke="#111" stroke-width="0.6" stroke-linecap="butt"/>
<line x1="387.20" y1="64.57" x2="389.00" y2="64.57" stroke="#111" stroke-width="0.6" stroke-linecap="butt"/>
<line x1="387.20" y1="60.54" x2="389.00" y2="60.54" stroke="#111" stroke-width="0.6" stroke-linecap="butt"/>
<line x1="387.20" y1="56.50" x2="389.00" y2="56.50" stroke="#111" stroke-width="0.6" stroke-linecap="butt"/>
<line x1="387.20" y1="52.47" x2="389.00" y2="52.47" stroke="#111" stroke-width="0.6" stroke-linecap="butt"/>
<line x1="387.20" y1="48.44" x2="389.00" y2="48.44" stroke="#111" stroke-width="0.6" stroke-linecap="butt"/>
<line x1="385.60" y1="44.40" x2="389.00" y2="44.40" stroke="#111" stroke-width="0.8" stroke-linecap="butt"/>
<text font-size="7.3" text-anchor="end" textLength="12.90" lengthAdjust="spacingAndGlyphs" x="383.20" y="46.75" stroke="#231f20" stroke-width="0.14">120</text>
<line x1="406.00" y1="165.40" x2="406.00" y2="169.00" stroke="#111" stroke-width="0.7" stroke-linecap="butt"/>
<line x1="427.50" y1="165.40" x2="427.50" y2="169.00" stroke="#111" stroke-width="0.7" stroke-linecap="butt"/>
<line x1="448.90" y1="165.40" x2="448.90" y2="169.00" stroke="#111" stroke-width="0.7" stroke-linecap="butt"/>
<line x1="470.50" y1="165.40" x2="470.50" y2="169.00" stroke="#111" stroke-width="0.7" stroke-linecap="butt"/>
<text font-size="7.0" text-anchor="end" textLength="24.20" lengthAdjust="spacingAndGlyphs" transform="translate(410.60,176.00) rotate(-45)" stroke="#231f20" stroke-width="0.14">Control</text>
<text font-size="7.0" text-anchor="end" textLength="34.60" lengthAdjust="spacingAndGlyphs" transform="translate(432.20,176.00) rotate(-45)" stroke="#231f20" stroke-width="0.14">NB4 naive</text>
<text font-size="7.0" text-anchor="end" textLength="46.60" lengthAdjust="spacingAndGlyphs" transform="translate(453.60,176.00) rotate(-45)" stroke="#231f20" stroke-width="0.14">NB4 EV-AsR1</text>
<text font-size="7.0" text-anchor="end" textLength="46.60" lengthAdjust="spacingAndGlyphs" transform="translate(475.20,176.00) rotate(-45)" stroke="#231f20" stroke-width="0.14">NB4 EV-AsR2</text>
<text font-size="8.6" stroke="#231f20" stroke-width="0.18" transform="translate(365.8,145.4) rotate(-90)" textLength="79.4" lengthAdjust="spacingAndGlyphs">% of annexinV<tspan font-size="5" dy="-2.6">−</tspan><tspan dy="2.6">-7AAD</tspan><tspan font-size="5" dy="-2.6">−</tspan><tspan dy="2.6"> cells</tspan></text>
</g>
<g id="flowC">
<text font-size="10.8" font-weight="bold" fill="#000" x="6.80" y="318.35" stroke="#000" stroke-width="0.2">C</text>
<text font-size="7.4" textLength="34.00" lengthAdjust="spacingAndGlyphs" x="37.60" y="326.35" stroke="#231f20" stroke-width="0.14">NB4 naive</text>
<text font-size="7.4" textLength="42.00" lengthAdjust="spacingAndGlyphs" x="84.00" y="326.35" stroke="#231f20" stroke-width="0.14">0.5uM ATRA</text>
<text font-size="7.4" textLength="35.60" lengthAdjust="spacingAndGlyphs" x="136.00" y="326.35" stroke="#231f20" stroke-width="0.14">1uM ATRA</text>
<clipPath id="cpC1"><rect x="34.00" y="328.30" width="43.80" height="42.90"/></clipPath>
<rect x="34.00" y="328.30" width="43.80" height="42.90" fill="#0a0b0b"/>
<g clip-path="url(#cpC1)">
<g filter="url(#spk)">
<ellipse rx="14.75" ry="5.50" transform="translate(43.00,359.50) rotate(-53.615648184164115)" fill="url(#dim)" opacity="0.9"/>
<ellipse rx="4.88" ry="2.50" transform="translate(55.00,345.50) rotate(-39.80557109226519)" fill="url(#dim)" opacity="0.5"/>
<ellipse rx="28.22" ry="15.69" transform="translate(42.00,361.00) rotate(-52)" fill="url(#dim)" opacity="0.85"/>
<ellipse rx="19.47" ry="10.58" transform="translate(42.00,361.00) rotate(-52)" fill="url(#warm)" opacity="0.95"/>
</g>
<ellipse rx="10.45" ry="5.29" transform="translate(42.00,361.00) rotate(-52)" fill="url(#warm)" opacity="0.6"/>
</g>
<line x1="52.00" y1="328.30" x2="52.00" y2="371.20" stroke="#7d7d7d" stroke-width="0.6" stroke-linecap="butt"/>
<line x1="34.00" y1="347.30" x2="77.80" y2="347.30" stroke="#7d7d7d" stroke-width="0.6" stroke-linecap="butt"/>
<text font-size="3.3" font-weight="bold" textLength="7.00" lengthAdjust="spacingAndGlyphs" fill="#f2f2f2" x="34.90" y="331.95" stroke="#f2f2f2" stroke-width="0.2">0.00%</text>
<text font-size="3.3" font-weight="bold" textLength="7.00" lengthAdjust="spacingAndGlyphs" fill="#f2f2f2" x="52.90" y="331.95" stroke="#f2f2f2" stroke-width="0.2">0.00%</text>
<text font-size="3.3" font-weight="bold" textLength="7.00" lengthAdjust="spacingAndGlyphs" fill="#f2f2f2" x="34.90" y="351.05" stroke="#f2f2f2" stroke-width="0.2">94.21%</text>
<text font-size="3.3" font-weight="bold" textLength="7.00" lengthAdjust="spacingAndGlyphs" fill="#f2f2f2" x="52.90" y="351.05" stroke="#f2f2f2" stroke-width="0.2">5.64%</text>
<line x1="31.20" y1="333.45" x2="32.60" y2="333.45" stroke="#444" stroke-width="0.6" stroke-linecap="butt"/>
<line x1="31.20" y1="344.17" x2="32.60" y2="344.17" stroke="#444" stroke-width="0.6" stroke-linecap="butt"/>
<line x1="31.20" y1="354.90" x2="32.60" y2="354.90" stroke="#444" stroke-width="0.6" stroke-linecap="butt"/>
<line x1="31.20" y1="365.62" x2="32.60" y2="365.62" stroke="#444" stroke-width="0.6" stroke-linecap="butt"/>
<clipPath id="cpC2"><rect x="83.00" y="328.30" width="43.00" height="42.90"/></clipPath>
<rect x="83.00" y="328.30" width="43.00" height="42.90" fill="#0a0b0b"/>
<g clip-path="url(#cpC2)">
<g filter="url(#spk)">
<ellipse rx="6.43" ry="3.00" transform="translate(105.50,345.50) rotate(-60.94539590092286)" fill="url(#dim)" opacity="0.6"/>
<ellipse rx="17.82" ry="9.92" transform="translate(99.00,359.40) rotate(-52)" fill="url(#dim)" opacity="0.85"/>
<ellipse rx="13.53" ry="7.36" transform="translate(99.00,359.40) rotate(-52)" fill="url(#warm)" opacity="0.95"/>
</g>
<ellipse rx="9.24" ry="4.64" transform="translate(99.00,359.40) rotate(-52)" fill="url(#hotY)" opacity="1"/>
</g>
<line x1="101.00" y1="328.30" x2="101.00" y2="371.20" stroke="#7d7d7d" stroke-width="0.6" stroke-linecap="butt"/>
<line x1="83.00" y1="347.30" x2="126.00" y2="347.30" stroke="#7d7d7d" stroke-width="0.6" stroke-linecap="butt"/>
<text font-size="3.3" font-weight="bold" textLength="7.00" lengthAdjust="spacingAndGlyphs" fill="#f2f2f2" x="83.90" y="331.95" stroke="#f2f2f2" stroke-width="0.2">0.51%</text>
<text font-size="3.3" font-weight="bold" textLength="7.00" lengthAdjust="spacingAndGlyphs" fill="#f2f2f2" x="101.90" y="331.95" stroke="#f2f2f2" stroke-width="0.2">2.04%</text>
<text font-size="3.3" font-weight="bold" textLength="7.00" lengthAdjust="spacingAndGlyphs" fill="#f2f2f2" x="83.90" y="351.05" stroke="#f2f2f2" stroke-width="0.2">68.68%</text>
<text font-size="3.3" font-weight="bold" textLength="7.00" lengthAdjust="spacingAndGlyphs" fill="#f2f2f2" x="101.90" y="351.05" stroke="#f2f2f2" stroke-width="0.2">28.76%</text>
<line x1="80.20" y1="333.45" x2="81.60" y2="333.45" stroke="#444" stroke-width="0.6" stroke-linecap="butt"/>
<line x1="80.20" y1="344.17" x2="81.60" y2="344.17" stroke="#444" stroke-width="0.6" stroke-linecap="butt"/>
<line x1="80.20" y1="354.90" x2="81.60" y2="354.90" stroke="#444" stroke-width="0.6" stroke-linecap="butt"/>
<line x1="80.20" y1="365.62" x2="81.60" y2="365.62" stroke="#444" stroke-width="0.6" stroke-linecap="butt"/>
<clipPath id="cpC3"><rect x="131.60" y="328.30" width="43.40" height="42.90"/></clipPath>
<rect x="131.60" y="328.30" width="43.40" height="42.90" fill="#0a0b0b"/>
<g clip-path="url(#cpC3)">
<g filter="url(#spk)">
<ellipse rx="6.43" ry="3.00" transform="translate(154.50,345.50) rotate(-60.94539590092286)" fill="url(#dim)" opacity="0.6"/>
<ellipse rx="18.63" ry="10.23" transform="translate(148.00,360.00) rotate(-50)" fill="url(#dim)" opacity="0.85"/>
<ellipse rx="14.14" ry="7.59" transform="translate(148.00,360.00) rotate(-50)" fill="url(#warm)" opacity="0.95"/>
</g>
<ellipse rx="9.66" ry="4.78" transform="translate(148.00,360.00) rotate(-50)" fill="url(#hotY)" opacity="1"/>
</g>
<line x1="149.00" y1="328.30" x2="149.00" y2="371.20" stroke="#7d7d7d" stroke-width="0.6" stroke-linecap="butt"/>
<line x1="131.60" y1="347.30" x2="175.00" y2="347.30" stroke="#7d7d7d" stroke-width="0.6" stroke-linecap="butt"/>
<text font-size="3.3" font-weight="bold" textLength="7.00" lengthAdjust="spacingAndGlyphs" fill="#f2f2f2" x="132.50" y="331.95" stroke="#f2f2f2" stroke-width="0.2">0.28%</text>
<text font-size="3.3" font-weight="bold" textLength="7.00" lengthAdjust="spacingAndGlyphs" fill="#f2f2f2" x="149.90" y="331.95" stroke="#f2f2f2" stroke-width="0.2">2.55%</text>
<text font-size="3.3" font-weight="bold" textLength="7.00" lengthAdjust="spacingAndGlyphs" fill="#f2f2f2" x="132.50" y="351.05" stroke="#f2f2f2" stroke-width="0.2">59.43%</text>
<text font-size="3.3" font-weight="bold" textLength="7.00" lengthAdjust="spacingAndGlyphs" fill="#f2f2f2" x="149.90" y="351.05" stroke="#f2f2f2" stroke-width="0.2">37.42%</text>
<line x1="128.80" y1="333.45" x2="130.20" y2="333.45" stroke="#444" stroke-width="0.6" stroke-linecap="butt"/>
<line x1="128.80" y1="344.17" x2="130.20" y2="344.17" stroke="#444" stroke-width="0.6" stroke-linecap="butt"/>
<line x1="128.80" y1="354.90" x2="130.20" y2="354.90" stroke="#444" stroke-width="0.6" stroke-linecap="butt"/>
<line x1="128.80" y1="365.62" x2="130.20" y2="365.62" stroke="#444" stroke-width="0.6" stroke-linecap="butt"/>
<clipPath id="cpC4"><rect x="34.00" y="373.40" width="43.80" height="42.40"/></clipPath>
<rect x="34.00" y="373.40" width="43.80" height="42.40" fill="#0a0b0b"/>
<g clip-path="url(#cpC4)">
<g filter="url(#spk)">
<ellipse rx="13.38" ry="3.20" transform="translate(46.50,405.50) rotate(142.59464336859145)" fill="url(#dim)" opacity="0.8"/>
<ellipse rx="11.07" ry="6.82" transform="translate(63.90,387.20) rotate(-38)" fill="url(#dim)" opacity="0.85"/>
<ellipse rx="8.40" ry="5.06" transform="translate(63.90,387.20) rotate(-38)" fill="url(#warm)" opacity="0.95"/>
<ellipse rx="11.61" ry="6.20" transform="translate(61.60,396.40) rotate(-47)" fill="url(#dim)" opacity="0.85"/>
<ellipse rx="8.81" ry="4.60" transform="translate(61.60,396.40) rotate(-47)" fill="url(#warm)" opacity="0.95"/>
</g>
<ellipse rx="5.74" ry="3.19" transform="translate(63.90,387.20) rotate(-38)" fill="url(#hotY)" opacity="1"/>
<ellipse rx="6.23" ry="3.00" transform="translate(61.60,396.40) rotate(-47)" fill="url(#hotY)" opacity="1"/>
<ellipse rx="3.65" ry="1.60" transform="translate(61.60,396.40) rotate(-47)" fill="url(#grn)" opacity="0.95"/>
</g>
<line x1="52.00" y1="373.40" x2="52.00" y2="415.80" stroke="#7d7d7d" stroke-width="0.6" stroke-linecap="butt"/>
<line x1="34.00" y1="392.10" x2="77.80" y2="392.10" stroke="#7d7d7d" stroke-width="0.6" stroke-linecap="butt"/>
<text font-size="3.3" font-weight="bold" textLength="7.00" lengthAdjust="spacingAndGlyphs" fill="#f2f2f2" x="34.90" y="377.05" stroke="#f2f2f2" stroke-width="0.2">0.34%</text>
<text font-size="3.3" font-weight="bold" textLength="7.00" lengthAdjust="spacingAndGlyphs" fill="#f2f2f2" x="52.90" y="377.05" stroke="#f2f2f2" stroke-width="0.2">35.85%</text>
<text font-size="3.3" font-weight="bold" textLength="7.00" lengthAdjust="spacingAndGlyphs" fill="#f2f2f2" x="34.90" y="395.85" stroke="#f2f2f2" stroke-width="0.2">6.26%</text>
<text font-size="3.3" font-weight="bold" textLength="7.00" lengthAdjust="spacingAndGlyphs" fill="#f2f2f2" x="52.90" y="395.85" stroke="#f2f2f2" stroke-width="0.2">57.53%</text>
<line x1="31.20" y1="378.49" x2="32.60" y2="378.49" stroke="#444" stroke-width="0.6" stroke-linecap="butt"/>
<line x1="41.01" y1="417.20" x2="41.01" y2="418.60" stroke="#444" stroke-width="0.6" stroke-linecap="butt"/>
<line x1="31.20" y1="389.09" x2="32.60" y2="389.09" stroke="#444" stroke-width="0.6" stroke-linecap="butt"/>
<line x1="51.52" y1="417.20" x2="51.52" y2="418.60" stroke="#444" stroke-width="0.6" stroke-linecap="butt"/>
<line x1="31.20" y1="399.69" x2="32.60" y2="399.69" stroke="#444" stroke-width="0.6" stroke-linecap="butt"/>
<line x1="62.03" y1="417.20" x2="62.03" y2="418.60" stroke="#444" stroke-width="0.6" stroke-linecap="butt"/>
<line x1="31.20" y1="410.29" x2="32.60" y2="410.29" stroke="#444" stroke-width="0.6" stroke-linecap="butt"/>
<line x1="72.54" y1="417.20" x2="72.54" y2="418.60" stroke="#444" stroke-width="0.6" stroke-linecap="butt"/>
<clipPath id="cpC5"><rect x="83.00" y="373.40" width="43.00" height="42.40"/></clipPath>
<rect x="83.00" y="373.40" width="43.00" height="42.40" fill="#0a0b0b"/>
<g clip-path="url(#cpC5)">
<g filter="url(#spk)">
<ellipse rx="12.41" ry="3.20" transform="translate(95.50,406.50) rotate(139.08561677997488)" fill="url(#dim)" opacity="0.8"/>
<ellipse rx="11.07" ry="6.82" transform="translate(112.00,386.80) rotate(-45)" fill="url(#dim)" opacity="0.85"/>
<ellipse rx="8.40" ry="5.06" transform="translate(112.00,386.80) rotate(-45)" fill="url(#warm)" opacity="0.95"/>
<ellipse rx="11.61" ry="6.20" transform="translate(109.20,396.40) rotate(-48)" fill="url(#dim)" opacity="0.85"/>
<ellipse rx="8.81" ry="4.60" transform="translate(109.20,396.40) rotate(-48)" fill="url(#warm)" opacity="0.95"/>
</g>
<ellipse rx="5.74" ry="3.19" transform="translate(112.00,386.80) rotate(-45)" fill="url(#hotY)" opacity="1"/>
<ellipse rx="6.23" ry="3.00" transform="translate(109.20,396.40) rotate(-48)" fill="url(#hotY)" opacity="1"/>
<ellipse rx="2.67" ry="1.10" transform="translate(109.20,396.40) rotate(-48)" fill="url(#grn)" opacity="0.9"/>
</g>
<line x1="101.00" y1="373.40" x2="101.00" y2="415.80" stroke="#7d7d7d" stroke-width="0.6" stroke-linecap="butt"/>
<line x1="83.00" y1="392.10" x2="126.00" y2="392.10" stroke="#7d7d7d" stroke-width="0.6" stroke-linecap="butt"/>
<text font-size="3.3" font-weight="bold" textLength="13.00" lengthAdjust="spacingAndGlyphs" fill="#f2f2f2" x="83.90" y="377.05" stroke="#f2f2f2" stroke-width="0.2">C-+: 0.79%</text>
<text font-size="3.3" font-weight="bold" textLength="13.00" lengthAdjust="spacingAndGlyphs" fill="#f2f2f2" x="101.90" y="377.05" stroke="#f2f2f2" stroke-width="0.2">C++: 37.81%</text>
<text font-size="3.3" font-weight="bold" textLength="13.00" lengthAdjust="spacingAndGlyphs" fill="#f2f2f2" x="83.90" y="395.85" stroke="#f2f2f2" stroke-width="0.2">C--: 3.24%</text>
<text font-size="3.3" font-weight="bold" textLength="13.00" lengthAdjust="spacingAndGlyphs" fill="#f2f2f2" x="101.90" y="395.85" stroke="#f2f2f2" stroke-width="0.2">C+-: 58.16%</text>
<line x1="80.20" y1="378.49" x2="81.60" y2="378.49" stroke="#444" stroke-width="0.6" stroke-linecap="butt"/>
<line x1="89.88" y1="417.20" x2="89.88" y2="418.60" stroke="#444" stroke-width="0.6" stroke-linecap="butt"/>
<line x1="80.20" y1="389.09" x2="81.60" y2="389.09" stroke="#444" stroke-width="0.6" stroke-linecap="butt"/>
<line x1="100.20" y1="417.20" x2="100.20" y2="418.60" stroke="#444" stroke-width="0.6" stroke-linecap="butt"/>
<line x1="80.20" y1="399.69" x2="81.60" y2="399.69" stroke="#444" stroke-width="0.6" stroke-linecap="butt"/>
<line x1="110.52" y1="417.20" x2="110.52" y2="418.60" stroke="#444" stroke-width="0.6" stroke-linecap="butt"/>
<line x1="80.20" y1="410.29" x2="81.60" y2="410.29" stroke="#444" stroke-width="0.6" stroke-linecap="butt"/>
<line x1="120.84" y1="417.20" x2="120.84" y2="418.60" stroke="#444" stroke-width="0.6" stroke-linecap="butt"/>
<clipPath id="cpC6"><rect x="131.60" y="373.40" width="43.40" height="42.40"/></clipPath>
<rect x="131.60" y="373.40" width="43.40" height="42.40" fill="#0a0b0b"/>
<g clip-path="url(#cpC6)">
<g filter="url(#spk)">
<ellipse rx="11.94" ry="3.20" transform="translate(144.00,406.50) rotate(137.12109639666144)" fill="url(#dim)" opacity="0.8"/>
<ellipse rx="11.07" ry="6.82" transform="translate(159.60,386.80) rotate(-42)" fill="url(#dim)" opacity="0.85"/>
<ellipse rx="8.40" ry="5.06" transform="translate(159.60,386.80) rotate(-42)" fill="url(#warm)" opacity="0.95"/>
<ellipse rx="11.61" ry="6.20" transform="translate(157.20,396.40) rotate(-48)" fill="url(#dim)" opacity="0.85"/>
<ellipse rx="8.81" ry="4.60" transform="translate(157.20,396.40) rotate(-48)" fill="url(#warm)" opacity="0.95"/>
</g>
<ellipse rx="5.74" ry="3.19" transform="translate(159.60,386.80) rotate(-42)" fill="url(#hotY)" opacity="1"/>
<ellipse rx="6.23" ry="3.00" transform="translate(157.20,396.40) rotate(-48)" fill="url(#hotY)" opacity="1"/>
<ellipse rx="2.67" ry="1.10" transform="translate(157.20,396.40) rotate(-48)" fill="url(#grn)" opacity="0.9"/>
</g>
<line x1="149.00" y1="373.40" x2="149.00" y2="415.80" stroke="#7d7d7d" stroke-width="0.6" stroke-linecap="butt"/>
<line x1="131.60" y1="392.10" x2="175.00" y2="392.10" stroke="#7d7d7d" stroke-width="0.6" stroke-linecap="butt"/>
<text font-size="3.3" font-weight="bold" textLength="13.00" lengthAdjust="spacingAndGlyphs" fill="#f2f2f2" x="132.50" y="377.05" stroke="#f2f2f2" stroke-width="0.2">C-+: 0.23%</text>
<text font-size="3.3" font-weight="bold" textLength="13.00" lengthAdjust="spacingAndGlyphs" fill="#f2f2f2" x="149.90" y="377.05" stroke="#f2f2f2" stroke-width="0.2">C++: 45.43%</text>
<text font-size="3.3" font-weight="bold" textLength="13.00" lengthAdjust="spacingAndGlyphs" fill="#f2f2f2" x="132.50" y="395.85" stroke="#f2f2f2" stroke-width="0.2">C--: 2.78%</text>
<text font-size="3.3" font-weight="bold" textLength="13.00" lengthAdjust="spacingAndGlyphs" fill="#f2f2f2" x="149.90" y="395.85" stroke="#f2f2f2" stroke-width="0.2">C+-: 51.54%</text>
<line x1="128.80" y1="378.49" x2="130.20" y2="378.49" stroke="#444" stroke-width="0.6" stroke-linecap="butt"/>
<line x1="138.54" y1="417.20" x2="138.54" y2="418.60" stroke="#444" stroke-width="0.6" stroke-linecap="butt"/>
<line x1="128.80" y1="389.09" x2="130.20" y2="389.09" stroke="#444" stroke-width="0.6" stroke-linecap="butt"/>
<line x1="148.96" y1="417.20" x2="148.96" y2="418.60" stroke="#444" stroke-width="0.6" stroke-linecap="butt"/>
<line x1="128.80" y1="399.69" x2="130.20" y2="399.69" stroke="#444" stroke-width="0.6" stroke-linecap="butt"/>
<line x1="159.38" y1="417.20" x2="159.38" y2="418.60" stroke="#444" stroke-width="0.6" stroke-linecap="butt"/>
<line x1="128.80" y1="410.29" x2="130.20" y2="410.29" stroke="#444" stroke-width="0.6" stroke-linecap="butt"/>
<line x1="169.79" y1="417.20" x2="169.79" y2="418.60" stroke="#444" stroke-width="0.6" stroke-linecap="butt"/>
<line x1="18.40" y1="414.00" x2="18.40" y2="333.10" stroke="#1a1a1a" stroke-width="0.75" stroke-linecap="butt"/>
<polygon points="18.40,328.60 20.10,333.60 16.70,333.60" fill="#1a1a1a"/>
<text font-size="7.4" textLength="19.60" lengthAdjust="spacingAndGlyphs" transform="translate(16.00,383.20) rotate(-90)" stroke="#231f20" stroke-width="0.14">7AAD</text>
<text font-size="7.4" textLength="24.20" lengthAdjust="spacingAndGlyphs" transform="translate(27.60,360.20) rotate(-90)" stroke="#231f20" stroke-width="0.14">Control</text>
<text font-size="7.4" textLength="32.00" lengthAdjust="spacingAndGlyphs" transform="translate(27.60,409.20) rotate(-90)" stroke="#231f20" stroke-width="0.14">2uM ATO</text>
<line x1="31.00" y1="422.00" x2="169.80" y2="422.00" stroke="#666" stroke-width="0.7" stroke-linecap="butt"/>
<polygon points="173.80,422.00 168.80,420.30 168.80,423.70" fill="#111"/>
<text font-size="7.4" textLength="27.00" lengthAdjust="spacingAndGlyphs" x="31.00" y="431.35" stroke="#231f20" stroke-width="0.14">CD 11b</text>
</g>
<g id="flowD">
<text font-size="10.8" font-weight="bold" fill="#000" x="176.80" y="318.35" stroke="#000" stroke-width="0.2">D</text>
<text font-size="7.4" textLength="46.00" lengthAdjust="spacingAndGlyphs" x="195.00" y="322.35" stroke="#231f20" stroke-width="0.14">NB4 EV-AsR1</text>
<text font-size="7.4" textLength="42.00" lengthAdjust="spacingAndGlyphs" x="245.00" y="322.35" stroke="#231f20" stroke-width="0.14">0.5uM ATRA</text>
<text font-size="7.4" textLength="35.40" lengthAdjust="spacingAndGlyphs" x="295.00" y="322.35" stroke="#231f20" stroke-width="0.14">1uM ATRA</text>
<clipPath id="cpD1"><rect x="198.70" y="325.60" width="46.10" height="45.60"/></clipPath>
<rect x="198.70" y="325.60" width="46.10" height="45.60" fill="#0a0b0b"/>
<g clip-path="url(#cpD1)">
<g filter="url(#spk)">
<ellipse rx="14.75" ry="3.00" transform="translate(222.50,351.00) rotate(-36.384351815835885)" fill="url(#dim)" opacity="0.95"/>
<ellipse rx="12.96" ry="8.37" transform="translate(209.50,362.40) rotate(-68)" fill="url(#dim)" opacity="0.85"/>
<ellipse rx="9.84" ry="6.21" transform="translate(209.50,362.40) rotate(-68)" fill="url(#warm)" opacity="0.95"/>
</g>
<ellipse rx="6.96" ry="4.05" transform="translate(209.50,362.40) rotate(-68)" fill="url(#hotY)" opacity="1"/>
<ellipse rx="4.08" ry="2.16" transform="translate(209.50,362.40) rotate(-68)" fill="url(#grn)" opacity="0.95"/>
</g>
<line x1="216.50" y1="325.60" x2="216.50" y2="371.20" stroke="#7d7d7d" stroke-width="0.6" stroke-linecap="butt"/>
<line x1="198.70" y1="354.80" x2="244.80" y2="354.80" stroke="#7d7d7d" stroke-width="0.6" stroke-linecap="butt"/>
<text font-size="3.3" font-weight="bold" textLength="7.00" lengthAdjust="spacingAndGlyphs" fill="#f2f2f2" x="199.60" y="329.25" stroke="#f2f2f2" stroke-width="0.2">1.11%</text>
<text font-size="3.3" font-weight="bold" textLength="7.00" lengthAdjust="spacingAndGlyphs" fill="#f2f2f2" x="217.40" y="329.25" stroke="#f2f2f2" stroke-width="0.2">5.08%</text>
<text font-size="3.3" font-weight="bold" textLength="7.00" lengthAdjust="spacingAndGlyphs" fill="#f2f2f2" x="199.60" y="358.55" stroke="#f2f2f2" stroke-width="0.2">92.74%</text>
<text font-size="3.3" font-weight="bold" textLength="7.00" lengthAdjust="spacingAndGlyphs" fill="#f2f2f2" x="217.40" y="358.55" stroke="#f2f2f2" stroke-width="0.2">1.07%</text>
<clipPath id="cpD2"><rect x="246.20" y="325.60" width="45.60" height="45.60"/></clipPath>
<rect x="246.20" y="325.60" width="45.60" height="45.60" fill="#0a0b0b"/>
<g clip-path="url(#cpD2)">
<g filter="url(#spk)">
<ellipse rx="12.82" ry="3.60" transform="translate(269.00,348.50) rotate(-46.97493401088198)" fill="url(#warm)" opacity="0.75"/>
<ellipse rx="14.58" ry="8.68" transform="translate(259.00,360.60) rotate(-55)" fill="url(#dim)" opacity="0.85"/>
<ellipse rx="11.07" ry="6.44" transform="translate(259.00,360.60) rotate(-55)" fill="url(#warm)" opacity="0.95"/>
</g>
<ellipse rx="7.56" ry="4.06" transform="translate(259.00,360.60) rotate(-55)" fill="url(#hotY)" opacity="1"/>
</g>
<line x1="263.30" y1="325.60" x2="263.30" y2="371.20" stroke="#7d7d7d" stroke-width="0.6" stroke-linecap="butt"/>
<line x1="246.20" y1="354.80" x2="291.80" y2="354.80" stroke="#7d7d7d" stroke-width="0.6" stroke-linecap="butt"/>
<text font-size="3.3" font-weight="bold" textLength="7.00" lengthAdjust="spacingAndGlyphs" fill="#f2f2f2" x="247.10" y="329.25" stroke="#f2f2f2" stroke-width="0.2">2.30%</text>
<text font-size="3.3" font-weight="bold" textLength="7.00" lengthAdjust="spacingAndGlyphs" fill="#f2f2f2" x="264.20" y="329.25" stroke="#f2f2f2" stroke-width="0.2">15.56%</text>
<text font-size="3.3" font-weight="bold" textLength="7.00" lengthAdjust="spacingAndGlyphs" fill="#f2f2f2" x="247.10" y="358.55" stroke="#f2f2f2" stroke-width="0.2">77.39%</text>
<text font-size="3.3" font-weight="bold" textLength="7.00" lengthAdjust="spacingAndGlyphs" fill="#f2f2f2" x="264.20" y="358.55" stroke="#f2f2f2" stroke-width="0.2">4.75%</text>
<clipPath id="cpD3"><rect x="294.00" y="325.60" width="45.60" height="45.60"/></clipPath>
<rect x="294.00" y="325.60" width="45.60" height="45.60" fill="#0a0b0b"/>
<g clip-path="url(#cpD3)">
<g filter="url(#spk)">
<ellipse rx="11.49" ry="3.40" transform="translate(317.50,349.50) rotate(-45.0)" fill="url(#warm)" opacity="0.7"/>
<ellipse rx="14.58" ry="8.68" transform="translate(307.80,360.60) rotate(-55)" fill="url(#dim)" opacity="0.85"/>
<ellipse rx="11.07" ry="6.44" transform="translate(307.80,360.60) rotate(-55)" fill="url(#warm)" opacity="0.95"/>
</g>
<ellipse rx="7.56" ry="4.06" transform="translate(307.80,360.60) rotate(-55)" fill="url(#hotY)" opacity="1"/>
</g>
<line x1="311.00" y1="325.60" x2="311.00" y2="371.20" stroke="#7d7d7d" stroke-width="0.6" stroke-linecap="butt"/>
<line x1="294.00" y1="354.80" x2="339.60" y2="354.80" stroke="#7d7d7d" stroke-width="0.6" stroke-linecap="butt"/>
<text font-size="3.3" font-weight="bold" textLength="7.00" lengthAdjust="spacingAndGlyphs" fill="#f2f2f2" x="294.90" y="329.25" stroke="#f2f2f2" stroke-width="0.2">2.65%</text>
<text font-size="3.3" font-weight="bold" textLength="7.00" lengthAdjust="spacingAndGlyphs" fill="#f2f2f2" x="311.90" y="329.25" stroke="#f2f2f2" stroke-width="0.2">12.47%</text>
<text font-size="3.3" font-weight="bold" textLength="7.00" lengthAdjust="spacingAndGlyphs" fill="#f2f2f2" x="294.90" y="358.55" stroke="#f2f2f2" stroke-width="0.2">72.26%</text>
<text font-size="3.3" font-weight="bold" textLength="7.00" lengthAdjust="spacingAndGlyphs" fill="#f2f2f2" x="311.90" y="358.55" stroke="#f2f2f2" stroke-width="0.2">12.62%</text>
<clipPath id="cpD4"><rect x="198.70" y="373.60" width="46.10" height="44.80"/></clipPath>
<rect x="198.70" y="373.60" width="46.10" height="44.80" fill="#0a0b0b"/>
<g clip-path="url(#cpD4)">
<g filter="url(#spk)">
<ellipse rx="15.26" ry="3.00" transform="translate(224.00,398.00) rotate(-34.99202019855866)" fill="url(#dim)" opacity="0.95"/>
<ellipse rx="12.42" ry="10.23" transform="translate(209.80,409.20) rotate(-50)" fill="url(#dim)" opacity="0.85"/>
<ellipse rx="9.43" ry="7.59" transform="translate(209.80,409.20) rotate(-50)" fill="url(#warm)" opacity="0.95"/>
</g>
<ellipse rx="6.44" ry="4.78" transform="translate(209.80,409.20) rotate(-50)" fill="url(#hotY)" opacity="1"/>
</g>
<line x1="216.50" y1="373.60" x2="216.50" y2="418.40" stroke="#7d7d7d" stroke-width="0.6" stroke-linecap="butt"/>
<line x1="198.70" y1="403.00" x2="244.80" y2="403.00" stroke="#7d7d7d" stroke-width="0.6" stroke-linecap="butt"/>
<text font-size="3.3" font-weight="bold" textLength="7.00" lengthAdjust="spacingAndGlyphs" fill="#f2f2f2" x="199.60" y="377.25" stroke="#f2f2f2" stroke-width="0.2">0.46%</text>
<text font-size="3.3" font-weight="bold" textLength="7.00" lengthAdjust="spacingAndGlyphs" fill="#f2f2f2" x="217.40" y="377.25" stroke="#f2f2f2" stroke-width="0.2">10.23%</text>
<text font-size="3.3" font-weight="bold" textLength="7.00" lengthAdjust="spacingAndGlyphs" fill="#f2f2f2" x="199.60" y="406.75" stroke="#f2f2f2" stroke-width="0.2">85.95%</text>
<text font-size="3.3" font-weight="bold" textLength="7.00" lengthAdjust="spacingAndGlyphs" fill="#f2f2f2" x="217.40" y="406.75" stroke="#f2f2f2" stroke-width="0.2">3.35%</text>
<clipPath id="cpD5"><rect x="246.20" y="373.60" width="45.60" height="44.80"/></clipPath>
<rect x="246.20" y="373.60" width="45.60" height="44.80" fill="#0a0b0b"/>
<g clip-path="url(#cpD5)">
<g filter="url(#spk)">
<ellipse rx="11.52" ry="3.20" transform="translate(271.00,398.00) rotate(-40.60129464500447)" fill="url(#warm)" opacity="0.8"/>
<ellipse rx="13.50" ry="10.23" transform="translate(260.00,409.20) rotate(-45)" fill="url(#dim)" opacity="0.85"/>
<ellipse rx="10.25" ry="7.59" transform="translate(260.00,409.20) rotate(-45)" fill="url(#warm)" opacity="0.95"/>
</g>
<ellipse rx="7.00" ry="4.78" transform="translate(260.00,409.20) rotate(-45)" fill="url(#hotY)" opacity="1"/>
</g>
<line x1="263.30" y1="373.60" x2="263.30" y2="418.40" stroke="#7d7d7d" stroke-width="0.6" stroke-linecap="butt"/>
<line x1="246.20" y1="403.00" x2="291.80" y2="403.00" stroke="#7d7d7d" stroke-width="0.6" stroke-linecap="butt"/>
<text font-size="3.3" font-weight="bold" textLength="7.00" lengthAdjust="spacingAndGlyphs" fill="#f2f2f2" x="247.10" y="377.25" stroke="#f2f2f2" stroke-width="0.2">0.86%</text>
<text font-size="3.3" font-weight="bold" textLength="7.00" lengthAdjust="spacingAndGlyphs" fill="#f2f2f2" x="264.20" y="377.25" stroke="#f2f2f2" stroke-width="0.2">18.48%</text>
<text font-size="3.3" font-weight="bold" textLength="7.00" lengthAdjust="spacingAndGlyphs" fill="#f2f2f2" x="247.10" y="406.75" stroke="#f2f2f2" stroke-width="0.2">64.61%</text>
<text font-size="3.3" font-weight="bold" textLength="7.00" lengthAdjust="spacingAndGlyphs" fill="#f2f2f2" x="264.20" y="406.75" stroke="#f2f2f2" stroke-width="0.2">16.05%</text>
<clipPath id="cpD6"><rect x="294.00" y="373.60" width="45.60" height="44.80"/></clipPath>
<rect x="294.00" y="373.60" width="45.60" height="44.80" fill="#0a0b0b"/>
<g clip-path="url(#cpD6)">
<g filter="url(#spk)">
<ellipse rx="11.52" ry="3.20" transform="translate(319.00,398.00) rotate(-40.60129464500447)" fill="url(#warm)" opacity="0.75"/>
<ellipse rx="13.50" ry="10.23" transform="translate(308.00,409.20) rotate(-48)" fill="url(#dim)" opacity="0.85"/>
<ellipse rx="10.25" ry="7.59" transform="translate(308.00,409.20) rotate(-48)" fill="url(#warm)" opacity="0.95"/>
</g>
<ellipse rx="7.00" ry="4.78" transform="translate(308.00,409.20) rotate(-48)" fill="url(#hotY)" opacity="1"/>
</g>
<line x1="311.00" y1="373.60" x2="311.00" y2="418.40" stroke="#7d7d7d" stroke-width="0.6" stroke-linecap="butt"/>
<line x1="294.00" y1="403.00" x2="339.60" y2="403.00" stroke="#7d7d7d" stroke-width="0.6" stroke-linecap="butt"/>
<text font-size="3.3" font-weight="bold" textLength="7.00" lengthAdjust="spacingAndGlyphs" fill="#f2f2f2" x="294.90" y="377.25" stroke="#f2f2f2" stroke-width="0.2">1.06%</text>
<text font-size="3.3" font-weight="bold" textLength="7.00" lengthAdjust="spacingAndGlyphs" fill="#f2f2f2" x="311.90" y="377.25" stroke="#f2f2f2" stroke-width="0.2">21.12%</text>
<text font-size="3.3" font-weight="bold" textLength="7.00" lengthAdjust="spacingAndGlyphs" fill="#f2f2f2" x="294.90" y="406.75" stroke="#f2f2f2" stroke-width="0.2">57.47%</text>
<text font-size="3.3" font-weight="bold" textLength="7.00" lengthAdjust="spacingAndGlyphs" fill="#f2f2f2" x="311.90" y="406.75" stroke="#f2f2f2" stroke-width="0.2">20.35%</text>
<line x1="187.00" y1="414.00" x2="187.00" y2="333.10" stroke="#1a1a1a" stroke-width="0.75" stroke-linecap="butt"/>
<polygon points="187.00,328.60 188.70,333.60 185.30,333.60" fill="#1a1a1a"/>
<text font-size="7.4" textLength="19.60" lengthAdjust="spacingAndGlyphs" transform="translate(185.00,383.20) rotate(-90)" stroke="#231f20" stroke-width="0.14">7AAD</text>
<text font-size="7.4" textLength="24.20" lengthAdjust="spacingAndGlyphs" transform="translate(196.20,360.20) rotate(-90)" stroke="#231f20" stroke-width="0.14">Control</text>
<text font-size="7.4" textLength="32.00" lengthAdjust="spacingAndGlyphs" transform="translate(196.20,409.20) rotate(-90)" stroke="#231f20" stroke-width="0.14">2uM ATO</text>
<line x1="197.00" y1="421.60" x2="335.80" y2="421.60" stroke="#666" stroke-width="0.7" stroke-linecap="butt"/>
<polygon points="339.80,421.60 334.80,419.90 334.80,423.30" fill="#111"/>
<text font-size="7.4" textLength="26.60" lengthAdjust="spacingAndGlyphs" x="197.00" y="431.35" stroke="#231f20" stroke-width="0.14">CD 11b</text>
</g>
<g id="flowE">
<text font-size="10.8" font-weight="bold" fill="#000" x="342.80" y="318.35" stroke="#000" stroke-width="0.2">E</text>
<text font-size="7.4" textLength="46.40" lengthAdjust="spacingAndGlyphs" x="359.60" y="322.35" stroke="#231f20" stroke-width="0.14">NB4 EV-AsR2</text>
<text font-size="7.4" textLength="42.00" lengthAdjust="spacingAndGlyphs" x="409.00" y="322.35" stroke="#231f20" stroke-width="0.14">0.5uM ATRA</text>
<text font-size="7.4" textLength="35.00" lengthAdjust="spacingAndGlyphs" x="459.60" y="322.35" stroke="#231f20" stroke-width="0.14">1uM ATRA</text>
<clipPath id="cpE1"><rect x="360.00" y="326.00" width="47.00" height="45.20"/></clipPath>
<rect x="360.00" y="326.00" width="47.00" height="45.20" fill="#0a0b0b"/>
<g clip-path="url(#cpE1)">
<g filter="url(#spk)">
<ellipse rx="5.38" ry="1.70" transform="translate(388.00,348.00) rotate(-35.53767779197438)" fill="url(#dim)" opacity="1"/>
<ellipse rx="12.96" ry="9.30" transform="translate(369.00,361.60) rotate(-70)" fill="url(#dim)" opacity="0.85"/>
<ellipse rx="9.84" ry="6.90" transform="translate(369.00,361.60) rotate(-70)" fill="url(#warm)" opacity="0.95"/>
</g>
<ellipse rx="6.96" ry="4.50" transform="translate(369.00,361.60) rotate(-70)" fill="url(#hotY)" opacity="1"/>
<ellipse rx="4.08" ry="2.40" transform="translate(369.00,361.60) rotate(-70)" fill="url(#grn)" opacity="0.95"/>
</g>
<line x1="378.00" y1="326.00" x2="378.00" y2="371.20" stroke="#7d7d7d" stroke-width="0.6" stroke-linecap="butt"/>
<line x1="360.00" y1="355.40" x2="407.00" y2="355.40" stroke="#7d7d7d" stroke-width="0.6" stroke-linecap="butt"/>
<text font-size="3.3" font-weight="bold" textLength="7.00" lengthAdjust="spacingAndGlyphs" fill="#f2f2f2" x="360.90" y="329.65" stroke="#f2f2f2" stroke-width="0.2">0.41%</text>
<text font-size="3.3" font-weight="bold" textLength="7.00" lengthAdjust="spacingAndGlyphs" fill="#f2f2f2" x="378.90" y="329.65" stroke="#f2f2f2" stroke-width="0.2">2.40%</text>
<text font-size="3.3" font-weight="bold" textLength="7.00" lengthAdjust="spacingAndGlyphs" fill="#f2f2f2" x="360.90" y="359.15" stroke="#f2f2f2" stroke-width="0.2">95.22%</text>
<text font-size="3.3" font-weight="bold" textLength="7.00" lengthAdjust="spacingAndGlyphs" fill="#f2f2f2" x="378.90" y="359.15" stroke="#f2f2f2" stroke-width="0.2">0.40%</text>
<clipPath id="cpE2"><rect x="409.00" y="326.00" width="46.40" height="45.20"/></clipPath>
<rect x="409.00" y="326.00" width="46.40" height="45.20" fill="#0a0b0b"/>
<g clip-path="url(#cpE2)">
<g filter="url(#spk)">
<ellipse rx="11.06" ry="2.40" transform="translate(432.50,350.00) rotate(-42.70938995736147)" fill="url(#warm)" opacity="0.8"/>
<ellipse rx="15.12" ry="9.30" transform="translate(421.00,360.60) rotate(-50)" fill="url(#dim)" opacity="0.85"/>
<ellipse rx="11.48" ry="6.90" transform="translate(421.00,360.60) rotate(-50)" fill="url(#warm)" opacity="0.95"/>
</g>
<ellipse rx="8.12" ry="4.50" transform="translate(421.00,360.60) rotate(-50)" fill="url(#hotY)" opacity="1"/>
<ellipse rx="3.47" ry="1.65" transform="translate(421.00,360.60) rotate(-50)" fill="url(#grn)" opacity="0.9"/>
</g>
<line x1="427.40" y1="326.00" x2="427.40" y2="371.20" stroke="#7d7d7d" stroke-width="0.6" stroke-linecap="butt"/>
<line x1="409.00" y1="355.40" x2="455.40" y2="355.40" stroke="#7d7d7d" stroke-width="0.6" stroke-linecap="butt"/>
<text font-size="3.3" font-weight="bold" textLength="7.00" lengthAdjust="spacingAndGlyphs" fill="#f2f2f2" x="409.90" y="329.65" stroke="#f2f2f2" stroke-width="0.2">0.46%</text>
<text font-size="3.3" font-weight="bold" textLength="7.00" lengthAdjust="spacingAndGlyphs" fill="#f2f2f2" x="428.30" y="329.65" stroke="#f2f2f2" stroke-width="0.2">7.85%</text>
<text font-size="3.3" font-weight="bold" textLength="7.00" lengthAdjust="spacingAndGlyphs" fill="#f2f2f2" x="409.90" y="359.15" stroke="#f2f2f2" stroke-width="0.2">89.79%</text>
<text font-size="3.3" font-weight="bold" textLength="7.00" lengthAdjust="spacingAndGlyphs" fill="#f2f2f2" x="428.30" y="359.15" stroke="#f2f2f2" stroke-width="0.2">3.86%</text>
<clipPath id="cpE3"><rect x="457.40" y="326.00" width="45.60" height="45.20"/></clipPath>
<rect x="457.40" y="326.00" width="45.60" height="45.20" fill="#0a0b0b"/>
<g clip-path="url(#cpE3)">
<g filter="url(#spk)">
<ellipse rx="9.72" ry="2.40" transform="translate(479.50,350.50) rotate(-45.0)" fill="url(#warm)" opacity="0.65"/>
<ellipse rx="14.04" ry="8.68" transform="translate(468.00,361.00) rotate(-55)" fill="url(#dim)" opacity="0.85"/>
<ellipse rx="10.66" ry="6.44" transform="translate(468.00,361.00) rotate(-55)" fill="url(#warm)" opacity="0.95"/>
</g>
<ellipse rx="7.28" ry="4.06" transform="translate(468.00,361.00) rotate(-55)" fill="url(#hotY)" opacity="1"/>
</g>
<line x1="475.00" y1="326.00" x2="475.00" y2="371.20" stroke="#7d7d7d" stroke-width="0.6" stroke-linecap="butt"/>
<line x1="457.40" y1="355.40" x2="503.00" y2="355.40" stroke="#7d7d7d" stroke-width="0.6" stroke-linecap="butt"/>
<text font-size="3.3" font-weight="bold" textLength="7.00" lengthAdjust="spacingAndGlyphs" fill="#f2f2f2" x="458.30" y="329.65" stroke="#f2f2f2" stroke-width="0.2">1.40%</text>
<text font-size="3.3" font-weight="bold" textLength="7.00" lengthAdjust="spacingAndGlyphs" fill="#f2f2f2" x="475.90" y="329.65" stroke="#f2f2f2" stroke-width="0.2">7.56%</text>
<text font-size="3.3" font-weight="bold" textLength="7.00" lengthAdjust="spacingAndGlyphs" fill="#f2f2f2" x="458.30" y="359.15" stroke="#f2f2f2" stroke-width="0.2">85.40%</text>
<text font-size="3.3" font-weight="bold" textLength="7.00" lengthAdjust="spacingAndGlyphs" fill="#f2f2f2" x="475.90" y="359.15" stroke="#f2f2f2" stroke-width="0.2">5.64%</text>
<clipPath id="cpE4"><rect x="360.00" y="374.00" width="47.00" height="45.40"/></clipPath>
<rect x="360.00" y="374.00" width="47.00" height="45.40" fill="#0a0b0b"/>
<g clip-path="url(#cpE4)">
<g filter="url(#spk)">
<ellipse rx="5.60" ry="1.70" transform="translate(389.50,394.40) rotate(-38.659808254089924)" fill="url(#dim)" opacity="1"/>
<ellipse rx="12.96" ry="9.92" transform="translate(370.60,409.20) rotate(-70)" fill="url(#dim)" opacity="0.85"/>
<ellipse rx="9.84" ry="7.36" transform="translate(370.60,409.20) rotate(-70)" fill="url(#warm)" opacity="0.95"/>
</g>
<ellipse rx="6.96" ry="4.80" transform="translate(370.60,409.20) rotate(-70)" fill="url(#hotY)" opacity="1"/>
<ellipse rx="4.08" ry="2.56" transform="translate(370.60,409.20) rotate(-70)" fill="url(#grn)" opacity="0.95"/>
</g>
<line x1="378.00" y1="374.00" x2="378.00" y2="419.40" stroke="#7d7d7d" stroke-width="0.6" stroke-linecap="butt"/>
<line x1="360.00" y1="403.40" x2="407.00" y2="403.40" stroke="#7d7d7d" stroke-width="0.6" stroke-linecap="butt"/>
<text font-size="3.3" font-weight="bold" textLength="7.00" lengthAdjust="spacingAndGlyphs" fill="#f2f2f2" x="360.90" y="377.65" stroke="#f2f2f2" stroke-width="0.2">0.98%</text>
<text font-size="3.3" font-weight="bold" textLength="7.00" lengthAdjust="spacingAndGlyphs" fill="#f2f2f2" x="378.90" y="377.65" stroke="#f2f2f2" stroke-width="0.2">6.29%</text>
<text font-size="3.3" font-weight="bold" textLength="7.00" lengthAdjust="spacingAndGlyphs" fill="#f2f2f2" x="360.90" y="407.15" stroke="#f2f2f2" stroke-width="0.2">91.56%</text>
<text font-size="3.3" font-weight="bold" textLength="7.00" lengthAdjust="spacingAndGlyphs" fill="#f2f2f2" x="378.90" y="407.15" stroke="#f2f2f2" stroke-width="0.2">1.17%</text>
<clipPath id="cpE5"><rect x="409.00" y="374.00" width="46.40" height="45.40"/></clipPath>
<rect x="409.00" y="374.00" width="46.40" height="45.40" fill="#0a0b0b"/>
<g clip-path="url(#cpE5)">
<g filter="url(#spk)">
<ellipse rx="11.52" ry="3.00" transform="translate(435.00,396.00) rotate(-40.60129464500447)" fill="url(#dim)" opacity="0.6"/>
<ellipse rx="13.50" ry="10.54" transform="translate(421.40,409.20) rotate(-55)" fill="url(#dim)" opacity="0.85"/>
<ellipse rx="10.25" ry="7.82" transform="translate(421.40,409.20) rotate(-55)" fill="url(#warm)" opacity="0.95"/>
</g>
<ellipse rx="7.00" ry="4.93" transform="translate(421.40,409.20) rotate(-55)" fill="url(#hotY)" opacity="1"/>
</g>
<line x1="427.40" y1="374.00" x2="427.40" y2="419.40" stroke="#7d7d7d" stroke-width="0.6" stroke-linecap="butt"/>
<line x1="409.00" y1="403.40" x2="455.40" y2="403.40" stroke="#7d7d7d" stroke-width="0.6" stroke-linecap="butt"/>
<text font-size="3.3" font-weight="bold" textLength="7.00" lengthAdjust="spacingAndGlyphs" fill="#f2f2f2" x="409.90" y="377.65" stroke="#f2f2f2" stroke-width="0.2">4.53%</text>
<text font-size="3.3" font-weight="bold" textLength="7.00" lengthAdjust="spacingAndGlyphs" fill="#f2f2f2" x="428.30" y="377.65" stroke="#f2f2f2" stroke-width="0.2">8.77%</text>
<text font-size="3.3" font-weight="bold" textLength="7.00" lengthAdjust="spacingAndGlyphs" fill="#f2f2f2" x="409.90" y="407.15" stroke="#f2f2f2" stroke-width="0.2">82.81%</text>
<text font-size="3.3" font-weight="bold" textLength="7.00" lengthAdjust="spacingAndGlyphs" fill="#f2f2f2" x="428.30" y="407.15" stroke="#f2f2f2" stroke-width="0.2">4.89%</text>
<clipPath id="cpE6"><rect x="457.40" y="374.00" width="45.60" height="45.40"/></clipPath>
<rect x="457.40" y="374.00" width="45.60" height="45.40" fill="#0a0b0b"/>
<g clip-path="url(#cpE6)">
<g filter="url(#spk)">
<ellipse rx="12.37" ry="3.00" transform="translate(484.00,395.00) rotate(-45.0)" fill="url(#dim)" opacity="0.6"/>
<ellipse rx="12.96" ry="10.54" transform="translate(470.00,409.60) rotate(-62)" fill="url(#dim)" opacity="0.85"/>
<ellipse rx="9.84" ry="7.82" transform="translate(470.00,409.60) rotate(-62)" fill="url(#warm)" opacity="0.95"/>
</g>
<ellipse rx="6.72" ry="4.93" transform="translate(470.00,409.60) rotate(-62)" fill="url(#hotY)" opacity="1"/>
</g>
<line x1="475.00" y1="374.00" x2="475.00" y2="419.40" stroke="#7d7d7d" stroke-width="0.6" stroke-linecap="butt"/>
<line x1="457.40" y1="403.40" x2="503.00" y2="403.40" stroke="#7d7d7d" stroke-width="0.6" stroke-linecap="butt"/>
<text font-size="3.3" font-weight="bold" textLength="7.00" lengthAdjust="spacingAndGlyphs" fill="#f2f2f2" x="458.30" y="377.65" stroke="#f2f2f2" stroke-width="0.2">5.17%</text>
<text font-size="3.3" font-weight="bold" textLength="7.00" lengthAdjust="spacingAndGlyphs" fill="#f2f2f2" x="475.90" y="377.65" stroke="#f2f2f2" stroke-width="0.2">8.33%</text>
<text font-size="3.3" font-weight="bold" textLength="7.00" lengthAdjust="spacingAndGlyphs" fill="#f2f2f2" x="458.30" y="407.15" stroke="#f2f2f2" stroke-width="0.2">81.18%</text>
<text font-size="3.3" font-weight="bold" textLength="7.00" lengthAdjust="spacingAndGlyphs" fill="#f2f2f2" x="475.90" y="407.15" stroke="#f2f2f2" stroke-width="0.2">8.31%</text>
<line x1="351.00" y1="414.00" x2="351.00" y2="333.10" stroke="#1a1a1a" stroke-width="0.75" stroke-linecap="butt"/>
<polygon points="351.00,328.60 352.70,333.60 349.30,333.60" fill="#1a1a1a"/>
<text font-size="7.4" textLength="19.60" lengthAdjust="spacingAndGlyphs" transform="translate(347.60,383.20) rotate(-90)" stroke="#231f20" stroke-width="0.14">7AAD</text>
<text font-size="7.4" textLength="24.20" lengthAdjust="spacingAndGlyphs" transform="translate(359.40,360.20) rotate(-90)" stroke="#231f20" stroke-width="0.14">Control</text>
<text font-size="7.4" textLength="32.00" lengthAdjust="spacingAndGlyphs" transform="translate(359.40,409.20) rotate(-90)" stroke="#231f20" stroke-width="0.14">2uM ATO</text>
<line x1="361.00" y1="421.40" x2="500.00" y2="421.40" stroke="#666" stroke-width="0.7" stroke-linecap="butt"/>
<polygon points="504.00,421.40 499.00,419.70 499.00,423.10" fill="#111"/>
<text font-size="7.4" textLength="26.80" lengthAdjust="spacingAndGlyphs" x="361.60" y="431.35" stroke="#231f20" stroke-width="0.14">CD 11b</text>
</g>
<g id="barsC">
<rect x="58.00" y="460.00" width="12.60" height="1.80" fill="#6a2c86"/>
<rect x="58.00" y="461.60" width="12.60" height="0.60" fill="#0f6b54"/>
<rect x="58.00" y="462.00" width="12.60" height="3.80" fill="#f7941d"/>
<rect x="58.45" y="466.05" width="11.70" height="72.95" fill="#fff" stroke="#0a0a0a" stroke-width="1.05"/>
<rect x="76.40" y="460.00" width="12.20" height="26.20" fill="#0f6b54"/>
<rect x="76.40" y="486.00" width="12.20" height="47.60" fill="#f7941d"/>
<rect x="76.85" y="533.85" width="11.30" height="5.15" fill="#fff" stroke="#0a0a0a" stroke-width="1.05"/>
<rect x="94.40" y="460.00" width="12.60" height="0.80" fill="#6a2c86"/>
<rect x="94.40" y="460.60" width="12.60" height="1.60" fill="#0f6b54"/>
<rect x="94.40" y="462.00" width="12.60" height="23.60" fill="#f7941d"/>
<rect x="94.85" y="485.85" width="11.70" height="53.15" fill="#fff" stroke="#0a0a0a" stroke-width="1.05"/>
<rect x="112.60" y="460.00" width="12.80" height="29.60" fill="#0f6b54"/>
<rect x="112.60" y="489.40" width="12.80" height="46.80" fill="#f7941d"/>
<rect x="113.05" y="536.45" width="11.90" height="2.55" fill="#fff" stroke="#0a0a0a" stroke-width="1.05"/>
<rect x="131.00" y="460.00" width="12.60" height="1.60" fill="#0f6b54"/>
<rect x="131.00" y="461.40" width="12.60" height="23.40" fill="#f7941d"/>
<rect x="131.45" y="485.05" width="11.70" height="53.95" fill="#fff" stroke="#0a0a0a" stroke-width="1.05"/>
<rect x="149.40" y="460.00" width="12.20" height="28.20" fill="#0f6b54"/>
<rect x="149.40" y="488.00" width="12.20" height="48.60" fill="#f7941d"/>
<rect x="149.85" y="536.85" width="11.30" height="2.15" fill="#fff" stroke="#0a0a0a" stroke-width="1.05"/>
<line x1="64.30" y1="460.00" x2="64.30" y2="459.20" stroke="#222" stroke-width="0.6" stroke-linecap="butt"/>
<line x1="62.90" y1="459.20" x2="65.70" y2="459.20" stroke="#222" stroke-width="0.6" stroke-linecap="butt"/>
<line x1="82.50" y1="460.00" x2="82.50" y2="457.40" stroke="#222" stroke-width="0.6" stroke-linecap="butt"/>
<line x1="81.10" y1="457.40" x2="83.90" y2="457.40" stroke="#222" stroke-width="0.6" stroke-linecap="butt"/>
<line x1="82.50" y1="486.00" x2="82.50" y2="485.60" stroke="#222" stroke-width="0.6" stroke-linecap="butt"/>
<line x1="81.10" y1="485.60" x2="83.90" y2="485.60" stroke="#222" stroke-width="0.6" stroke-linecap="butt"/>
<line x1="82.50" y1="533.40" x2="82.50" y2="531.40" stroke="#222" stroke-width="0.6" stroke-linecap="butt"/>
<line x1="81.10" y1="531.40" x2="83.90" y2="531.40" stroke="#222" stroke-width="0.6" stroke-linecap="butt"/>
<line x1="100.70" y1="460.00" x2="100.70" y2="456.00" stroke="#222" stroke-width="0.6" stroke-linecap="butt"/>
<line x1="99.10" y1="456.00" x2="102.30" y2="456.00" stroke="#222" stroke-width="0.6" stroke-linecap="butt"/>
<line x1="100.70" y1="485.40" x2="100.70" y2="479.00" stroke="#222" stroke-width="0.6" stroke-linecap="butt"/>
<line x1="99.10" y1="479.00" x2="102.30" y2="479.00" stroke="#222" stroke-width="0.6" stroke-linecap="butt"/>
<line x1="119.00" y1="460.00" x2="119.00" y2="457.60" stroke="#222" stroke-width="0.6" stroke-linecap="butt"/>
<line x1="117.60" y1="457.60" x2="120.40" y2="457.60" stroke="#222" stroke-width="0.6" stroke-linecap="butt"/>
<line x1="119.00" y1="489.40" x2="119.00" y2="488.00" stroke="#222" stroke-width="0.6" stroke-linecap="butt"/>
<line x1="117.60" y1="488.00" x2="120.40" y2="488.00" stroke="#222" stroke-width="0.6" stroke-linecap="butt"/>
<line x1="119.00" y1="536.00" x2="119.00" y2="535.40" stroke="#222" stroke-width="0.6" stroke-linecap="butt"/>
<line x1="117.60" y1="535.40" x2="120.40" y2="535.40" stroke="#222" stroke-width="0.6" stroke-linecap="butt"/>
<line x1="137.30" y1="460.00" x2="137.30" y2="459.00" stroke="#222" stroke-width="0.6" stroke-linecap="butt"/>
<line x1="135.90" y1="459.00" x2="138.70" y2="459.00" stroke="#222" stroke-width="0.6" stroke-linecap="butt"/>
<line x1="137.30" y1="484.60" x2="137.30" y2="483.00" stroke="#222" stroke-width="0.6" stroke-linecap="butt"/>
<line x1="135.90" y1="483.00" x2="138.70" y2="483.00" stroke="#222" stroke-width="0.6" stroke-linecap="butt"/>
<line x1="155.50" y1="460.00" x2="155.50" y2="453.40" stroke="#222" stroke-width="0.6" stroke-linecap="butt"/>
<line x1="153.90" y1="453.40" x2="157.10" y2="453.40" stroke="#222" stroke-width="0.6" stroke-linecap="butt"/>
<line x1="155.50" y1="488.00" x2="155.50" y2="482.00" stroke="#222" stroke-width="0.6" stroke-linecap="butt"/>
<line x1="153.90" y1="482.00" x2="157.10" y2="482.00" stroke="#222" stroke-width="0.6" stroke-linecap="butt"/>
<line x1="155.50" y1="536.40" x2="155.50" y2="535.80" stroke="#222" stroke-width="0.6" stroke-linecap="butt"/>
<line x1="154.10" y1="535.80" x2="156.90" y2="535.80" stroke="#222" stroke-width="0.6" stroke-linecap="butt"/>
<line x1="51.60" y1="444.04" x2="51.60" y2="539.50" stroke="#111" stroke-width="1.05" stroke-linecap="butt"/>
<line x1="51.10" y1="539.00" x2="167.60" y2="539.00" stroke="#111" stroke-width="1.05" stroke-linecap="butt"/>
<line x1="48.40" y1="539.00" x2="51.60" y2="539.00" stroke="#111" stroke-width="0.8" stroke-linecap="butt"/>
<text font-size="7.3" text-anchor="end" textLength="4.30" lengthAdjust="spacingAndGlyphs" x="46.20" y="541.35" stroke="#231f20" stroke-width="0.14">0</text>
<line x1="49.90" y1="535.85" x2="51.60" y2="535.85" stroke="#111" stroke-width="0.55" stroke-linecap="butt"/>
<line x1="49.90" y1="532.70" x2="51.60" y2="532.70" stroke="#111" stroke-width="0.55" stroke-linecap="butt"/>
<line x1="49.90" y1="529.54" x2="51.60" y2="529.54" stroke="#111" stroke-width="0.55" stroke-linecap="butt"/>
<line x1="49.90" y1="526.39" x2="51.60" y2="526.39" stroke="#111" stroke-width="0.55" stroke-linecap="butt"/>
<line x1="48.40" y1="523.24" x2="51.60" y2="523.24" stroke="#111" stroke-width="0.8" stroke-linecap="butt"/>
<text font-size="7.3" text-anchor="end" textLength="8.60" lengthAdjust="spacingAndGlyphs" x="46.20" y="525.59" stroke="#231f20" stroke-width="0.14">20</text>
<line x1="49.90" y1="520.09" x2="51.60" y2="520.09" stroke="#111" stroke-width="0.55" stroke-linecap="butt"/>
<line x1="49.90" y1="516.94" x2="51.60" y2="516.94" stroke="#111" stroke-width="0.55" stroke-linecap="butt"/>
<line x1="49.90" y1="513.78" x2="51.60" y2="513.78" stroke="#111" stroke-width="0.55" stroke-linecap="butt"/>
<line x1="49.90" y1="510.63" x2="51.60" y2="510.63" stroke="#111" stroke-width="0.55" stroke-linecap="butt"/>
<line x1="48.40" y1="507.48" x2="51.60" y2="507.48" stroke="#111" stroke-width="0.8" stroke-linecap="butt"/>
<text font-size="7.3" text-anchor="end" textLength="8.60" lengthAdjust="spacingAndGlyphs" x="46.20" y="509.83" stroke="#231f20" stroke-width="0.14">40</text>
<line x1="49.90" y1="504.33" x2="51.60" y2="504.33" stroke="#111" stroke-width="0.55" stroke-linecap="butt"/>
<line x1="49.90" y1="501.18" x2="51.60" y2="501.18" stroke="#111" stroke-width="0.55" stroke-linecap="butt"/>
<line x1="49.90" y1="498.02" x2="51.60" y2="498.02" stroke="#111" stroke-width="0.55" stroke-linecap="butt"/>
<line x1="49.90" y1="494.87" x2="51.60" y2="494.87" stroke="#111" stroke-width="0.55" stroke-linecap="butt"/>
<line x1="48.40" y1="491.72" x2="51.60" y2="491.72" stroke="#111" stroke-width="0.8" stroke-linecap="butt"/>
<text font-size="7.3" text-anchor="end" textLength="8.60" lengthAdjust="spacingAndGlyphs" x="46.20" y="494.07" stroke="#231f20" stroke-width="0.14">60</text>
<line x1="49.90" y1="488.57" x2="51.60" y2="488.57" stroke="#111" stroke-width="0.55" stroke-linecap="butt"/>
<line x1="49.90" y1="485.42" x2="51.60" y2="485.42" stroke="#111" stroke-width="0.55" stroke-linecap="butt"/>
<line x1="49.90" y1="482.26" x2="51.60" y2="482.26" stroke="#111" stroke-width="0.55" stroke-linecap="butt"/>
<line x1="49.90" y1="479.11" x2="51.60" y2="479.11" stroke="#111" stroke-width="0.55" stroke-linecap="butt"/>
<line x1="48.40" y1="475.96" x2="51.60" y2="475.96" stroke="#111" stroke-width="0.8" stroke-linecap="butt"/>
<text font-size="7.3" text-anchor="end" textLength="8.60" lengthAdjust="spacingAndGlyphs" x="46.20" y="478.31" stroke="#231f20" stroke-width="0.14">80</text>
<line x1="49.90" y1="472.81" x2="51.60" y2="472.81" stroke="#111" stroke-width="0.55" stroke-linecap="butt"/>
<line x1="49.90" y1="469.66" x2="51.60" y2="469.66" stroke="#111" stroke-width="0.55" stroke-linecap="butt"/>
<line x1="49.90" y1="466.50" x2="51.60" y2="466.50" stroke="#111" stroke-width="0.55" stroke-linecap="butt"/>
<line x1="49.90" y1="463.35" x2="51.60" y2="463.35" stroke="#111" stroke-width="0.55" stroke-linecap="butt"/>
<line x1="48.40" y1="460.20" x2="51.60" y2="460.20" stroke="#111" stroke-width="0.8" stroke-linecap="butt"/>
<text font-size="7.3" text-anchor="end" textLength="12.90" lengthAdjust="spacingAndGlyphs" x="46.20" y="462.55" stroke="#231f20" stroke-width="0.14">100</text>
<line x1="49.90" y1="457.05" x2="51.60" y2="457.05" stroke="#111" stroke-width="0.55" stroke-linecap="butt"/>
<line x1="49.90" y1="453.90" x2="51.60" y2="453.90" stroke="#111" stroke-width="0.55" stroke-linecap="butt"/>
<line x1="49.90" y1="450.74" x2="51.60" y2="450.74" stroke="#111" stroke-width="0.55" stroke-linecap="butt"/>
<line x1="49.90" y1="447.59" x2="51.60" y2="447.59" stroke="#111" stroke-width="0.55" stroke-linecap="butt"/>
<line x1="48.40" y1="444.44" x2="51.60" y2="444.44" stroke="#111" stroke-width="0.8" stroke-linecap="butt"/>
<text font-size="7.3" text-anchor="end" textLength="12.90" lengthAdjust="spacingAndGlyphs" x="46.20" y="446.79" stroke="#231f20" stroke-width="0.14">120</text>
<line x1="64.30" y1="539.00" x2="64.30" y2="542.00" stroke="#111" stroke-width="0.7" stroke-linecap="butt"/>
<line x1="82.50" y1="539.00" x2="82.50" y2="542.00" stroke="#111" stroke-width="0.7" stroke-linecap="butt"/>
<line x1="100.70" y1="539.00" x2="100.70" y2="542.00" stroke="#111" stroke-width="0.7" stroke-linecap="butt"/>
<line x1="119.00" y1="539.00" x2="119.00" y2="542.00" stroke="#111" stroke-width="0.7" stroke-linecap="butt"/>
<line x1="137.30" y1="539.00" x2="137.30" y2="542.00" stroke="#111" stroke-width="0.7" stroke-linecap="butt"/>
<line x1="155.50" y1="539.00" x2="155.50" y2="542.00" stroke="#111" stroke-width="0.7" stroke-linecap="butt"/>
<text font-size="7.0" text-anchor="end" textLength="23.60" lengthAdjust="spacingAndGlyphs" transform="translate(68.60,548.80) rotate(-45)" stroke="#231f20" stroke-width="0.14">Control</text>
<text font-size="7.0" text-anchor="end" textLength="32.20" lengthAdjust="spacingAndGlyphs" transform="translate(87.00,548.80) rotate(-45)" stroke="#231f20" stroke-width="0.14">2uM ATO</text>
<text font-size="7.0" text-anchor="end" textLength="42.60" lengthAdjust="spacingAndGlyphs" transform="translate(105.20,548.80) rotate(-45)" stroke="#231f20" stroke-width="0.14">0.5uM ATRA</text>
<text font-size="7.0" text-anchor="end" textLength="63.20" lengthAdjust="spacingAndGlyphs" transform="translate(123.40,548.80) rotate(-45)" stroke="#231f20" stroke-width="0.14">ATO+0.5uM ATRA</text>
<text font-size="7.0" text-anchor="end" textLength="35.20" lengthAdjust="spacingAndGlyphs" transform="translate(141.60,548.80) rotate(-45)" stroke="#231f20" stroke-width="0.14">1uM ATRA</text>
<text font-size="7.0" text-anchor="end" textLength="56.20" lengthAdjust="spacingAndGlyphs" transform="translate(160.00,548.80) rotate(-45)" stroke="#231f20" stroke-width="0.14">ATO+1uM ATRA</text>
<text font-size="8.6" textLength="58.00" lengthAdjust="spacingAndGlyphs" transform="translate(27.60,520.00) rotate(-90)" stroke="#231f20" stroke-width="0.18"># proportion of cells</text>
</g>
<g id="barsD">
<rect x="225.00" y="460.40" width="12.60" height="0.60" fill="#6a2c86"/>
<rect x="225.00" y="460.80" width="12.60" height="4.60" fill="#0f6b54"/>
<rect x="225.00" y="465.20" width="12.60" height="0.60" fill="#f7941d"/>
<rect x="225.45" y="466.05" width="11.70" height="73.95" fill="#fff" stroke="#0a0a0a" stroke-width="1.05"/>
<rect x="243.00" y="460.40" width="13.00" height="0.40" fill="#6a2c86"/>
<rect x="243.00" y="460.60" width="13.00" height="9.60" fill="#0f6b54"/>
<rect x="243.00" y="470.00" width="13.00" height="3.20" fill="#f7941d"/>
<rect x="243.45" y="473.45" width="12.10" height="66.55" fill="#fff" stroke="#0a0a0a" stroke-width="1.05"/>
<rect x="261.40" y="460.40" width="13.00" height="1.40" fill="#6a2c86"/>
<rect x="261.40" y="461.60" width="13.00" height="9.60" fill="#0f6b54"/>
<rect x="261.40" y="471.00" width="13.00" height="8.20" fill="#f7941d"/>
<rect x="261.85" y="479.45" width="12.10" height="60.55" fill="#fff" stroke="#0a0a0a" stroke-width="1.05"/>
<rect x="280.00" y="460.40" width="12.60" height="0.60" fill="#6a2c86"/>
<rect x="280.00" y="460.80" width="12.60" height="17.00" fill="#0f6b54"/>
<rect x="280.00" y="477.60" width="12.60" height="12.60" fill="#f7941d"/>
<rect x="280.45" y="490.45" width="11.70" height="49.55" fill="#fff" stroke="#0a0a0a" stroke-width="1.05"/>
<rect x="298.40" y="460.40" width="12.60" height="1.80" fill="#6a2c86"/>
<rect x="298.40" y="462.00" width="12.60" height="10.20" fill="#0f6b54"/>
<rect x="298.40" y="472.00" width="12.60" height="9.20" fill="#f7941d"/>
<rect x="298.85" y="481.45" width="11.70" height="58.55" fill="#fff" stroke="#0a0a0a" stroke-width="1.05"/>
<rect x="317.00" y="460.40" width="12.60" height="1.20" fill="#6a2c86"/>
<rect x="317.00" y="461.40" width="12.60" height="16.80" fill="#0f6b54"/>
<rect x="317.00" y="478.00" width="12.60" height="13.60" fill="#f7941d"/>
<rect x="317.45" y="491.85" width="11.70" height="48.15" fill="#fff" stroke="#0a0a0a" stroke-width="1.05"/>
<line x1="231.30" y1="460.40" x2="231.30" y2="459.80" stroke="#222" stroke-width="0.6" stroke-linecap="butt"/>
<line x1="229.90" y1="459.80" x2="232.70" y2="459.80" stroke="#222" stroke-width="0.6" stroke-linecap="butt"/>
<line x1="231.30" y1="465.60" x2="231.30" y2="465.00" stroke="#222" stroke-width="0.6" stroke-linecap="butt"/>
<line x1="229.90" y1="465.00" x2="232.70" y2="465.00" stroke="#222" stroke-width="0.6" stroke-linecap="butt"/>
<line x1="249.50" y1="460.40" x2="249.50" y2="456.00" stroke="#222" stroke-width="0.6" stroke-linecap="butt"/>
<line x1="247.90" y1="456.00" x2="251.10" y2="456.00" stroke="#222" stroke-width="0.6" stroke-linecap="butt"/>
<line x1="249.50" y1="473.00" x2="249.50" y2="468.00" stroke="#222" stroke-width="0.6" stroke-linecap="butt"/>
<line x1="247.90" y1="468.00" x2="251.10" y2="468.00" stroke="#222" stroke-width="0.6" stroke-linecap="butt"/>
<line x1="267.90" y1="460.40" x2="267.90" y2="459.80" stroke="#222" stroke-width="0.6" stroke-linecap="butt"/>
<line x1="266.50" y1="459.80" x2="269.30" y2="459.80" stroke="#222" stroke-width="0.6" stroke-linecap="butt"/>
<line x1="267.90" y1="471.00" x2="267.90" y2="470.60" stroke="#222" stroke-width="0.6" stroke-linecap="butt"/>
<line x1="266.50" y1="470.60" x2="269.30" y2="470.60" stroke="#222" stroke-width="0.6" stroke-linecap="butt"/>
<line x1="267.90" y1="479.00" x2="267.90" y2="478.40" stroke="#222" stroke-width="0.6" stroke-linecap="butt"/>
<line x1="266.50" y1="478.40" x2="269.30" y2="478.40" stroke="#222" stroke-width="0.6" stroke-linecap="butt"/>
<line x1="286.30" y1="460.40" x2="286.30" y2="459.80" stroke="#222" stroke-width="0.6" stroke-linecap="butt"/>
<line x1="284.90" y1="459.80" x2="287.70" y2="459.80" stroke="#222" stroke-width="0.6" stroke-linecap="butt"/>
<line x1="286.30" y1="477.60" x2="286.30" y2="477.00" stroke="#222" stroke-width="0.6" stroke-linecap="butt"/>
<line x1="284.90" y1="477.00" x2="287.70" y2="477.00" stroke="#222" stroke-width="0.6" stroke-linecap="butt"/>
<line x1="286.30" y1="490.00" x2="286.30" y2="488.60" stroke="#222" stroke-width="0.6" stroke-linecap="butt"/>
<line x1="284.90" y1="488.60" x2="287.70" y2="488.60" stroke="#222" stroke-width="0.6" stroke-linecap="butt"/>
<line x1="304.70" y1="460.40" x2="304.70" y2="459.80" stroke="#222" stroke-width="0.6" stroke-linecap="butt"/>
<line x1="303.30" y1="459.80" x2="306.10" y2="459.80" stroke="#222" stroke-width="0.6" stroke-linecap="butt"/>
<line x1="304.70" y1="472.00" x2="304.70" y2="471.00" stroke="#222" stroke-width="0.6" stroke-linecap="butt"/>
<line x1="303.30" y1="471.00" x2="306.10" y2="471.00" stroke="#222" stroke-width="0.6" stroke-linecap="butt"/>
<line x1="304.70" y1="481.00" x2="304.70" y2="479.80" stroke="#222" stroke-width="0.6" stroke-linecap="butt"/>
<line x1="303.30" y1="479.80" x2="306.10" y2="479.80" stroke="#222" stroke-width="0.6" stroke-linecap="butt"/>
<line x1="323.30" y1="460.40" x2="323.30" y2="459.80" stroke="#222" stroke-width="0.6" stroke-linecap="butt"/>
<line x1="321.90" y1="459.80" x2="324.70" y2="459.80" stroke="#222" stroke-width="0.6" stroke-linecap="butt"/>
<line x1="323.30" y1="478.00" x2="323.30" y2="477.00" stroke="#222" stroke-width="0.6" stroke-linecap="butt"/>
<line x1="321.90" y1="477.00" x2="324.70" y2="477.00" stroke="#222" stroke-width="0.6" stroke-linecap="butt"/>
<line x1="323.30" y1="491.40" x2="323.30" y2="489.80" stroke="#222" stroke-width="0.6" stroke-linecap="butt"/>
<line x1="321.90" y1="489.80" x2="324.70" y2="489.80" stroke="#222" stroke-width="0.6" stroke-linecap="butt"/>
<line x1="218.60" y1="443.96" x2="218.60" y2="540.50" stroke="#111" stroke-width="1.05" stroke-linecap="butt"/>
<line x1="218.10" y1="540.00" x2="336.20" y2="540.00" stroke="#111" stroke-width="1.05" stroke-linecap="butt"/>
<line x1="215.40" y1="540.00" x2="218.60" y2="540.00" stroke="#111" stroke-width="0.8" stroke-linecap="butt"/>
<text font-size="7.3" text-anchor="end" textLength="4.30" lengthAdjust="spacingAndGlyphs" x="213.20" y="542.35" stroke="#231f20" stroke-width="0.14">0</text>
<line x1="216.90" y1="536.81" x2="218.60" y2="536.81" stroke="#111" stroke-width="0.55" stroke-linecap="butt"/>
<line x1="216.90" y1="533.62" x2="218.60" y2="533.62" stroke="#111" stroke-width="0.55" stroke-linecap="butt"/>
<line x1="216.90" y1="530.44" x2="218.60" y2="530.44" stroke="#111" stroke-width="0.55" stroke-linecap="butt"/>
<line x1="216.90" y1="527.25" x2="218.60" y2="527.25" stroke="#111" stroke-width="0.55" stroke-linecap="butt"/>
<line x1="215.40" y1="524.06" x2="218.60" y2="524.06" stroke="#111" stroke-width="0.8" stroke-linecap="butt"/>
<text font-size="7.3" text-anchor="end" textLength="8.60" lengthAdjust="spacingAndGlyphs" x="213.20" y="526.41" stroke="#231f20" stroke-width="0.14">20</text>
<line x1="216.90" y1="520.87" x2="218.60" y2="520.87" stroke="#111" stroke-width="0.55" stroke-linecap="butt"/>
<line x1="216.90" y1="517.68" x2="218.60" y2="517.68" stroke="#111" stroke-width="0.55" stroke-linecap="butt"/>
<line x1="216.90" y1="514.50" x2="218.60" y2="514.50" stroke="#111" stroke-width="0.55" stroke-linecap="butt"/>
<line x1="216.90" y1="511.31" x2="218.60" y2="511.31" stroke="#111" stroke-width="0.55" stroke-linecap="butt"/>
<line x1="215.40" y1="508.12" x2="218.60" y2="508.12" stroke="#111" stroke-width="0.8" stroke-linecap="butt"/>
<text font-size="7.3" text-anchor="end" textLength="8.60" lengthAdjust="spacingAndGlyphs" x="213.20" y="510.47" stroke="#231f20" stroke-width="0.14">40</text>
<line x1="216.90" y1="504.93" x2="218.60" y2="504.93" stroke="#111" stroke-width="0.55" stroke-linecap="butt"/>
<line x1="216.90" y1="501.74" x2="218.60" y2="501.74" stroke="#111" stroke-width="0.55" stroke-linecap="butt"/>
<line x1="216.90" y1="498.56" x2="218.60" y2="498.56" stroke="#111" stroke-width="0.55" stroke-linecap="butt"/>
<line x1="216.90" y1="495.37" x2="218.60" y2="495.37" stroke="#111" stroke-width="0.55" stroke-linecap="butt"/>
<line x1="215.40" y1="492.18" x2="218.60" y2="492.18" stroke="#111" stroke-width="0.8" stroke-linecap="butt"/>
<text font-size="7.3" text-anchor="end" textLength="8.60" lengthAdjust="spacingAndGlyphs" x="213.20" y="494.53" stroke="#231f20" stroke-width="0.14">60</text>
<line x1="216.90" y1="488.99" x2="218.60" y2="488.99" stroke="#111" stroke-width="0.55" stroke-linecap="butt"/>
<line x1="216.90" y1="485.80" x2="218.60" y2="485.80" stroke="#111" stroke-width="0.55" stroke-linecap="butt"/>
<line x1="216.90" y1="482.62" x2="218.60" y2="482.62" stroke="#111" stroke-width="0.55" stroke-linecap="butt"/>
<line x1="216.90" y1="479.43" x2="218.60" y2="479.43" stroke="#111" stroke-width="0.55" stroke-linecap="butt"/>
<line x1="215.40" y1="476.24" x2="218.60" y2="476.24" stroke="#111" stroke-width="0.8" stroke-linecap="butt"/>
<text font-size="7.3" text-anchor="end" textLength="8.60" lengthAdjust="spacingAndGlyphs" x="213.20" y="478.59" stroke="#231f20" stroke-width="0.14">80</text>
<line x1="216.90" y1="473.05" x2="218.60" y2="473.05" stroke="#111" stroke-width="0.55" stroke-linecap="butt"/>
<line x1="216.90" y1="469.86" x2="218.60" y2="469.86" stroke="#111" stroke-width="0.55" stroke-linecap="butt"/>
<line x1="216.90" y1="466.68" x2="218.60" y2="466.68" stroke="#111" stroke-width="0.55" stroke-linecap="butt"/>
<line x1="216.90" y1="463.49" x2="218.60" y2="463.49" stroke="#111" stroke-width="0.55" stroke-linecap="butt"/>
<line x1="215.40" y1="460.30" x2="218.60" y2="460.30" stroke="#111" stroke-width="0.8" stroke-linecap="butt"/>
<text font-size="7.3" text-anchor="end" textLength="12.90" lengthAdjust="spacingAndGlyphs" x="213.20" y="462.65" stroke="#231f20" stroke-width="0.14">100</text>
<line x1="216.90" y1="457.11" x2="218.60" y2="457.11" stroke="#111" stroke-width="0.55" stroke-linecap="butt"/>
<line x1="216.90" y1="453.92" x2="218.60" y2="453.92" stroke="#111" stroke-width="0.55" stroke-linecap="butt"/>
<line x1="216.90" y1="450.74" x2="218.60" y2="450.74" stroke="#111" stroke-width="0.55" stroke-linecap="butt"/>
<line x1="216.90" y1="447.55" x2="218.60" y2="447.55" stroke="#111" stroke-width="0.55" stroke-linecap="butt"/>
<line x1="215.40" y1="444.36" x2="218.60" y2="444.36" stroke="#111" stroke-width="0.8" stroke-linecap="butt"/>
<text font-size="7.3" text-anchor="end" textLength="12.90" lengthAdjust="spacingAndGlyphs" x="213.20" y="446.71" stroke="#231f20" stroke-width="0.14">120</text>
<line x1="231.30" y1="540.00" x2="231.30" y2="543.00" stroke="#111" stroke-width="0.7" stroke-linecap="butt"/>
<line x1="249.50" y1="540.00" x2="249.50" y2="543.00" stroke="#111" stroke-width="0.7" stroke-linecap="butt"/>
<line x1="267.90" y1="540.00" x2="267.90" y2="543.00" stroke="#111" stroke-width="0.7" stroke-linecap="butt"/>
<line x1="286.30" y1="540.00" x2="286.30" y2="543.00" stroke="#111" stroke-width="0.7" stroke-linecap="butt"/>
<line x1="304.70" y1="540.00" x2="304.70" y2="543.00" stroke="#111" stroke-width="0.7" stroke-linecap="butt"/>
<line x1="323.30" y1="540.00" x2="323.30" y2="543.00" stroke="#111" stroke-width="0.7" stroke-linecap="butt"/>
<text font-size="7.0" text-anchor="end" textLength="23.60" lengthAdjust="spacingAndGlyphs" transform="translate(235.60,549.80) rotate(-45)" stroke="#231f20" stroke-width="0.14">Control</text>
<text font-size="7.0" text-anchor="end" textLength="32.20" lengthAdjust="spacingAndGlyphs" transform="translate(253.80,549.80) rotate(-45)" stroke="#231f20" stroke-width="0.14">2uM ATO</text>
<text font-size="7.0" text-anchor="end" textLength="42.60" lengthAdjust="spacingAndGlyphs" transform="translate(272.20,549.80) rotate(-45)" stroke="#231f20" stroke-width="0.14">0.5uM ATRA</text>
<text font-size="7.0" text-anchor="end" textLength="63.20" lengthAdjust="spacingAndGlyphs" transform="translate(290.60,549.80) rotate(-45)" stroke="#231f20" stroke-width="0.14">ATO+0.5uM ATRA</text>
<text font-size="7.0" text-anchor="end" textLength="35.20" lengthAdjust="spacingAndGlyphs" transform="translate(309.20,549.80) rotate(-45)" stroke="#231f20" stroke-width="0.14">1uM ATRA</text>
<text font-size="7.0" text-anchor="end" textLength="56.20" lengthAdjust="spacingAndGlyphs" transform="translate(327.60,549.80) rotate(-45)" stroke="#231f20" stroke-width="0.14">ATO+1uM ATRA</text>
<text font-size="8.6" textLength="58.00" lengthAdjust="spacingAndGlyphs" transform="translate(195.00,521.00) rotate(-90)" stroke="#231f20" stroke-width="0.18"># proportion of cells</text>
</g>
<g id="barsE">
<rect x="389.00" y="461.60" width="13.00" height="0.80" fill="#6a2c86"/>
<rect x="389.00" y="462.20" width="13.00" height="3.60" fill="#0f6b54"/>
<rect x="389.00" y="465.60" width="13.00" height="0.60" fill="#f7941d"/>
<rect x="389.45" y="466.45" width="12.10" height="73.15" fill="#fff" stroke="#0a0a0a" stroke-width="1.05"/>
<rect x="407.40" y="461.60" width="12.60" height="1.20" fill="#6a2c86"/>
<rect x="407.40" y="462.60" width="12.60" height="5.00" fill="#0f6b54"/>
<rect x="407.40" y="467.40" width="12.60" height="1.20" fill="#f7941d"/>
<rect x="407.85" y="468.85" width="11.70" height="70.75" fill="#fff" stroke="#0a0a0a" stroke-width="1.05"/>
<rect x="425.40" y="461.60" width="12.20" height="3.00" fill="#6a2c86"/>
<rect x="425.40" y="464.40" width="12.20" height="6.80" fill="#0f6b54"/>
<rect x="425.40" y="471.00" width="12.20" height="3.20" fill="#f7941d"/>
<rect x="425.85" y="474.45" width="11.30" height="65.15" fill="#fff" stroke="#0a0a0a" stroke-width="1.05"/>
<rect x="443.40" y="461.60" width="12.20" height="2.00" fill="#6a2c86"/>
<rect x="443.40" y="463.40" width="12.20" height="5.80" fill="#0f6b54"/>
<rect x="443.40" y="469.00" width="12.20" height="7.20" fill="#f7941d"/>
<rect x="443.85" y="476.45" width="11.30" height="63.15" fill="#fff" stroke="#0a0a0a" stroke-width="1.05"/>
<rect x="461.40" y="461.60" width="12.20" height="3.00" fill="#6a2c86"/>
<rect x="461.40" y="464.40" width="12.20" height="6.40" fill="#0f6b54"/>
<rect x="461.40" y="470.60" width="12.20" height="3.00" fill="#f7941d"/>
<rect x="461.85" y="473.85" width="11.30" height="65.75" fill="#fff" stroke="#0a0a0a" stroke-width="1.05"/>
<rect x="479.40" y="461.60" width="12.20" height="1.20" fill="#6a2c86"/>
<rect x="479.40" y="462.60" width="12.20" height="7.20" fill="#0f6b54"/>
<rect x="479.40" y="469.60" width="12.20" height="7.00" fill="#f7941d"/>
<rect x="479.85" y="476.85" width="11.30" height="62.75" fill="#fff" stroke="#0a0a0a" stroke-width="1.05"/>
<line x1="395.50" y1="461.60" x2="395.50" y2="461.00" stroke="#222" stroke-width="0.6" stroke-linecap="butt"/>
<line x1="394.10" y1="461.00" x2="396.90" y2="461.00" stroke="#222" stroke-width="0.6" stroke-linecap="butt"/>
<line x1="395.50" y1="466.00" x2="395.50" y2="465.40" stroke="#222" stroke-width="0.6" stroke-linecap="butt"/>
<line x1="394.10" y1="465.40" x2="396.90" y2="465.40" stroke="#222" stroke-width="0.6" stroke-linecap="butt"/>
<line x1="395.50" y1="465.60" x2="395.50" y2="465.10" stroke="#222" stroke-width="0.6" stroke-linecap="butt"/>
<line x1="394.30" y1="465.10" x2="396.70" y2="465.10" stroke="#222" stroke-width="0.6" stroke-linecap="butt"/>
<line x1="413.70" y1="461.60" x2="413.70" y2="461.00" stroke="#222" stroke-width="0.6" stroke-linecap="butt"/>
<line x1="412.30" y1="461.00" x2="415.10" y2="461.00" stroke="#222" stroke-width="0.6" stroke-linecap="butt"/>
<line x1="413.70" y1="468.40" x2="413.70" y2="467.80" stroke="#222" stroke-width="0.6" stroke-linecap="butt"/>
<line x1="412.30" y1="467.80" x2="415.10" y2="467.80" stroke="#222" stroke-width="0.6" stroke-linecap="butt"/>
<line x1="413.70" y1="467.40" x2="413.70" y2="466.90" stroke="#222" stroke-width="0.6" stroke-linecap="butt"/>
<line x1="412.50" y1="466.90" x2="414.90" y2="466.90" stroke="#222" stroke-width="0.6" stroke-linecap="butt"/>
<line x1="431.50" y1="461.60" x2="431.50" y2="461.00" stroke="#222" stroke-width="0.6" stroke-linecap="butt"/>
<line x1="430.10" y1="461.00" x2="432.90" y2="461.00" stroke="#222" stroke-width="0.6" stroke-linecap="butt"/>
<line x1="431.50" y1="474.00" x2="431.50" y2="473.40" stroke="#222" stroke-width="0.6" stroke-linecap="butt"/>
<line x1="430.10" y1="473.40" x2="432.90" y2="473.40" stroke="#222" stroke-width="0.6" stroke-linecap="butt"/>
<line x1="431.50" y1="471.00" x2="431.50" y2="470.50" stroke="#222" stroke-width="0.6" stroke-linecap="butt"/>
<line x1="430.30" y1="470.50" x2="432.70" y2="470.50" stroke="#222" stroke-width="0.6" stroke-linecap="butt"/>
<line x1="449.50" y1="461.60" x2="449.50" y2="461.00" stroke="#222" stroke-width="0.6" stroke-linecap="butt"/>
<line x1="448.10" y1="461.00" x2="450.90" y2="461.00" stroke="#222" stroke-width="0.6" stroke-linecap="butt"/>
<line x1="449.50" y1="476.00" x2="449.50" y2="475.40" stroke="#222" stroke-width="0.6" stroke-linecap="butt"/>
<line x1="448.10" y1="475.40" x2="450.90" y2="475.40" stroke="#222" stroke-width="0.6" stroke-linecap="butt"/>
<line x1="449.50" y1="469.00" x2="449.50" y2="468.50" stroke="#222" stroke-width="0.6" stroke-linecap="butt"/>
<line x1="448.30" y1="468.50" x2="450.70" y2="468.50" stroke="#222" stroke-width="0.6" stroke-linecap="butt"/>
<line x1="467.50" y1="461.60" x2="467.50" y2="461.00" stroke="#222" stroke-width="0.6" stroke-linecap="butt"/>
<line x1="466.10" y1="461.00" x2="468.90" y2="461.00" stroke="#222" stroke-width="0.6" stroke-linecap="butt"/>
<line x1="467.50" y1="473.40" x2="467.50" y2="472.80" stroke="#222" stroke-width="0.6" stroke-linecap="butt"/>
<line x1="466.10" y1="472.80" x2="468.90" y2="472.80" stroke="#222" stroke-width="0.6" stroke-linecap="butt"/>
<line x1="467.50" y1="470.60" x2="467.50" y2="470.10" stroke="#222" stroke-width="0.6" stroke-linecap="butt"/>
<line x1="466.30" y1="470.10" x2="468.70" y2="470.10" stroke="#222" stroke-width="0.6" stroke-linecap="butt"/>
<line x1="485.50" y1="461.60" x2="485.50" y2="461.00" stroke="#222" stroke-width="0.6" stroke-linecap="butt"/>
<line x1="484.10" y1="461.00" x2="486.90" y2="461.00" stroke="#222" stroke-width="0.6" stroke-linecap="butt"/>
<line x1="485.50" y1="476.40" x2="485.50" y2="475.80" stroke="#222" stroke-width="0.6" stroke-linecap="butt"/>
<line x1="484.10" y1="475.80" x2="486.90" y2="475.80" stroke="#222" stroke-width="0.6" stroke-linecap="butt"/>
<line x1="485.50" y1="469.60" x2="485.50" y2="469.10" stroke="#222" stroke-width="0.6" stroke-linecap="butt"/>
<line x1="484.30" y1="469.10" x2="486.70" y2="469.10" stroke="#222" stroke-width="0.6" stroke-linecap="butt"/>
<line x1="383.00" y1="445.60" x2="383.00" y2="540.10" stroke="#111" stroke-width="1.05" stroke-linecap="butt"/>
<line x1="382.50" y1="539.60" x2="498.60" y2="539.60" stroke="#111" stroke-width="1.05" stroke-linecap="butt"/>
<line x1="379.80" y1="539.60" x2="383.00" y2="539.60" stroke="#111" stroke-width="0.8" stroke-linecap="butt"/>
<text font-size="7.3" text-anchor="end" textLength="4.30" lengthAdjust="spacingAndGlyphs" x="377.80" y="541.95" stroke="#231f20" stroke-width="0.14">0</text>
<line x1="381.30" y1="536.48" x2="383.00" y2="536.48" stroke="#111" stroke-width="0.55" stroke-linecap="butt"/>
<line x1="381.30" y1="533.36" x2="383.00" y2="533.36" stroke="#111" stroke-width="0.55" stroke-linecap="butt"/>
<line x1="381.30" y1="530.24" x2="383.00" y2="530.24" stroke="#111" stroke-width="0.55" stroke-linecap="butt"/>
<line x1="381.30" y1="527.12" x2="383.00" y2="527.12" stroke="#111" stroke-width="0.55" stroke-linecap="butt"/>
<line x1="379.80" y1="524.00" x2="383.00" y2="524.00" stroke="#111" stroke-width="0.8" stroke-linecap="butt"/>
<text font-size="7.3" text-anchor="end" textLength="8.60" lengthAdjust="spacingAndGlyphs" x="377.80" y="526.35" stroke="#231f20" stroke-width="0.14">20</text>
<line x1="381.30" y1="520.88" x2="383.00" y2="520.88" stroke="#111" stroke-width="0.55" stroke-linecap="butt"/>
<line x1="381.30" y1="517.76" x2="383.00" y2="517.76" stroke="#111" stroke-width="0.55" stroke-linecap="butt"/>
<line x1="381.30" y1="514.64" x2="383.00" y2="514.64" stroke="#111" stroke-width="0.55" stroke-linecap="butt"/>
<line x1="381.30" y1="511.52" x2="383.00" y2="511.52" stroke="#111" stroke-width="0.55" stroke-linecap="butt"/>
<line x1="379.80" y1="508.40" x2="383.00" y2="508.40" stroke="#111" stroke-width="0.8" stroke-linecap="butt"/>
<text font-size="7.3" text-anchor="end" textLength="8.60" lengthAdjust="spacingAndGlyphs" x="377.80" y="510.75" stroke="#231f20" stroke-width="0.14">40</text>
<line x1="381.30" y1="505.28" x2="383.00" y2="505.28" stroke="#111" stroke-width="0.55" stroke-linecap="butt"/>
<line x1="381.30" y1="502.16" x2="383.00" y2="502.16" stroke="#111" stroke-width="0.55" stroke-linecap="butt"/>
<line x1="381.30" y1="499.04" x2="383.00" y2="499.04" stroke="#111" stroke-width="0.55" stroke-linecap="butt"/>
<line x1="381.30" y1="495.92" x2="383.00" y2="495.92" stroke="#111" stroke-width="0.55" stroke-linecap="butt"/>
<line x1="379.80" y1="492.80" x2="383.00" y2="492.80" stroke="#111" stroke-width="0.8" stroke-linecap="butt"/>
<text font-size="7.3" text-anchor="end" textLength="8.60" lengthAdjust="spacingAndGlyphs" x="377.80" y="495.15" stroke="#231f20" stroke-width="0.14">60</text>
<line x1="381.30" y1="489.68" x2="383.00" y2="489.68" stroke="#111" stroke-width="0.55" stroke-linecap="butt"/>
<line x1="381.30" y1="486.56" x2="383.00" y2="486.56" stroke="#111" stroke-width="0.55" stroke-linecap="butt"/>
<line x1="381.30" y1="483.44" x2="383.00" y2="483.44" stroke="#111" stroke-width="0.55" stroke-linecap="butt"/>
<line x1="381.30" y1="480.32" x2="383.00" y2="480.32" stroke="#111" stroke-width="0.55" stroke-linecap="butt"/>
<line x1="379.80" y1="477.20" x2="383.00" y2="477.20" stroke="#111" stroke-width="0.8" stroke-linecap="butt"/>
<text font-size="7.3" text-anchor="end" textLength="8.60" lengthAdjust="spacingAndGlyphs" x="377.80" y="479.55" stroke="#231f20" stroke-width="0.14">80</text>
<line x1="381.30" y1="474.08" x2="383.00" y2="474.08" stroke="#111" stroke-width="0.55" stroke-linecap="butt"/>
<line x1="381.30" y1="470.96" x2="383.00" y2="470.96" stroke="#111" stroke-width="0.55" stroke-linecap="butt"/>
<line x1="381.30" y1="467.84" x2="383.00" y2="467.84" stroke="#111" stroke-width="0.55" stroke-linecap="butt"/>
<line x1="381.30" y1="464.72" x2="383.00" y2="464.72" stroke="#111" stroke-width="0.55" stroke-linecap="butt"/>
<line x1="379.80" y1="461.60" x2="383.00" y2="461.60" stroke="#111" stroke-width="0.8" stroke-linecap="butt"/>
<text font-size="7.3" text-anchor="end" textLength="12.90" lengthAdjust="spacingAndGlyphs" x="377.80" y="463.95" stroke="#231f20" stroke-width="0.14">100</text>
<line x1="381.30" y1="458.48" x2="383.00" y2="458.48" stroke="#111" stroke-width="0.55" stroke-linecap="butt"/>
<line x1="381.30" y1="455.36" x2="383.00" y2="455.36" stroke="#111" stroke-width="0.55" stroke-linecap="butt"/>
<line x1="381.30" y1="452.24" x2="383.00" y2="452.24" stroke="#111" stroke-width="0.55" stroke-linecap="butt"/>
<line x1="381.30" y1="449.12" x2="383.00" y2="449.12" stroke="#111" stroke-width="0.55" stroke-linecap="butt"/>
<line x1="379.80" y1="446.00" x2="383.00" y2="446.00" stroke="#111" stroke-width="0.8" stroke-linecap="butt"/>
<text font-size="7.3" text-anchor="end" textLength="12.90" lengthAdjust="spacingAndGlyphs" x="377.80" y="448.35" stroke="#231f20" stroke-width="0.14">120</text>
<line x1="395.50" y1="539.60" x2="395.50" y2="542.60" stroke="#111" stroke-width="0.7" stroke-linecap="butt"/>
<line x1="413.70" y1="539.60" x2="413.70" y2="542.60" stroke="#111" stroke-width="0.7" stroke-linecap="butt"/>
<line x1="431.50" y1="539.60" x2="431.50" y2="542.60" stroke="#111" stroke-width="0.7" stroke-linecap="butt"/>
<line x1="449.50" y1="539.60" x2="449.50" y2="542.60" stroke="#111" stroke-width="0.7" stroke-linecap="butt"/>
<line x1="467.50" y1="539.60" x2="467.50" y2="542.60" stroke="#111" stroke-width="0.7" stroke-linecap="butt"/>
<line x1="485.50" y1="539.60" x2="485.50" y2="542.60" stroke="#111" stroke-width="0.7" stroke-linecap="butt"/>
<text font-size="7.0" text-anchor="end" textLength="23.60" lengthAdjust="spacingAndGlyphs" transform="translate(401.00,549.40) rotate(-45)" stroke="#231f20" stroke-width="0.14">Control</text>
<text font-size="7.0" text-anchor="end" textLength="32.20" lengthAdjust="spacingAndGlyphs" transform="translate(418.80,549.40) rotate(-45)" stroke="#231f20" stroke-width="0.14">2uM ATO</text>
<text font-size="7.0" text-anchor="end" textLength="42.60" lengthAdjust="spacingAndGlyphs" transform="translate(437.20,549.40) rotate(-45)" stroke="#231f20" stroke-width="0.14">0.5uM ATRA</text>
<text font-size="7.0" text-anchor="end" textLength="63.20" lengthAdjust="spacingAndGlyphs" transform="translate(455.40,549.40) rotate(-45)" stroke="#231f20" stroke-width="0.14">ATO+0.5uM ATRA</text>
<text font-size="7.0" text-anchor="end" textLength="35.20" lengthAdjust="spacingAndGlyphs" transform="translate(474.00,549.40) rotate(-45)" stroke="#231f20" stroke-width="0.14">1uM ATRA</text>
<text font-size="7.0" text-anchor="end" textLength="56.20" lengthAdjust="spacingAndGlyphs" transform="translate(493.00,549.40) rotate(-45)" stroke="#231f20" stroke-width="0.14">ATO+1uM ATRA</text>
<text font-size="8.6" textLength="58.00" lengthAdjust="spacingAndGlyphs" transform="translate(359.20,520.60) rotate(-90)" stroke="#231f20" stroke-width="0.18"># proportion of cells</text>
</g>
<g id="legend">
<rect x="90.4" y="603.4" width="9.4" height="6.4" fill="#fff" stroke="#111" stroke-width="0.9"/>
<rect x="90.00" y="615.40" width="10.00" height="6.80" fill="#f7941d"/>
<rect x="277.00" y="603.00" width="9.60" height="7.00" fill="#6a2c86"/>
<rect x="277.00" y="615.60" width="9.60" height="6.60" fill="#0f6b54"/>
<text x="103" y="609.4" font-size="7.1" stroke="#231f20" stroke-width="0.14" textLength="138" lengthAdjust="spacingAndGlyphs">Undifferentiated viable cells (CD11b<tspan font-size="4.6" dy="-2.6">−</tspan><tspan dy="2.6">7AAD</tspan><tspan font-size="4.6" dy="-2.6">−</tspan><tspan dy="2.6">)</tspan></text>
<text x="103" y="622.4" font-size="7.1" stroke="#231f20" stroke-width="0.14" textLength="111" lengthAdjust="spacingAndGlyphs">Differentiated cells (CD11b<tspan font-size="4.6" dy="-2.6">+</tspan><tspan dy="2.6">7AAD</tspan><tspan font-size="4.6" dy="-2.6">−</tspan><tspan dy="2.6">)</tspan></text>
<text x="289.6" y="609.4" font-size="7.1" stroke="#231f20" stroke-width="0.14" textLength="136.4" lengthAdjust="spacingAndGlyphs">Undifferentiated dead cells (CD11b<tspan font-size="4.6" dy="-2.6">−</tspan><tspan dy="2.6">7AAD</tspan><tspan font-size="4.6" dy="-2.6">+</tspan><tspan dy="2.6">)</tspan></text>
<text x="289.6" y="622.4" font-size="7.1" stroke="#231f20" stroke-width="0.14" textLength="135.4" lengthAdjust="spacingAndGlyphs">Differentiated/dead cells (CD11b<tspan font-size="4.6" dy="-2.6">+</tspan><tspan dy="2.6"> / 7AAD</tspan><tspan font-size="4.6" dy="-2.6">+</tspan><tspan dy="2.6">)</tspan></text>
</g>
<rect x="0.00" y="0.00" width="520.00" height="1.00" fill="#111"/>
<rect x="0.00" y="0.00" width="1.00" height="630.00" fill="#111"/>
<rect x="518.70" y="0.00" width="1.30" height="630.00" fill="#111"/>
<rect x="0.00" y="628.20" width="520.00" height="1.80" fill="#111"/>
</svg></body></html>
